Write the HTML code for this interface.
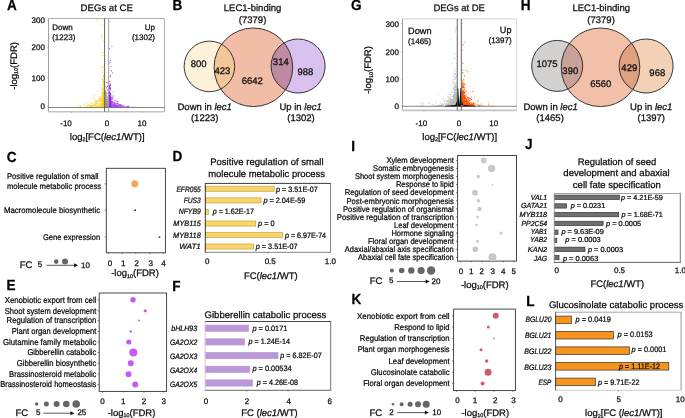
<!DOCTYPE html>
<html><head><meta charset="utf-8"><style>
html,body{margin:0;padding:0;background:#fff;width:685px;height:418px;overflow:hidden}
svg{display:block;will-change:transform}
text{font-family:"Liberation Sans",sans-serif;stroke:#000;stroke-width:0.25px;text-rendering:geometricPrecision}
.c{stroke-width:0.24px}
</style></head><body>
<svg width="685" height="418" viewBox="0 0 685 418" font-family="Liberation Sans">
<rect width="685" height="418" fill="#fff"/>
<text transform="translate(7.05,9.7) scale(0.93,1)" font-size="14.6" font-weight="bold" fill="#000">A</text><text transform="translate(172.6,9.7) scale(0.93,1)" font-size="14.6" font-weight="bold" fill="#000">B</text><text transform="translate(350.9,10.2) scale(0.93,1)" font-size="14.6" font-weight="bold" fill="#000">G</text><text transform="translate(520.7,10.1) scale(0.93,1)" font-size="14.6" font-weight="bold" fill="#000">H</text><text transform="translate(6.8,161.7) scale(0.93,1)" font-size="14.6" font-weight="bold" fill="#000">C</text><text transform="translate(172.6,161.39999999999998) scale(0.93,1)" font-size="14.6" font-weight="bold" fill="#000">D</text><text transform="translate(351.2,151.39999999999998) scale(0.93,1)" font-size="14.6" font-weight="bold" fill="#000">I</text><text transform="translate(525.1,148.79999999999998) scale(0.93,1)" font-size="14.6" font-weight="bold" fill="#000">J</text><text transform="translate(6.5,290.09999999999997) scale(0.93,1)" font-size="14.6" font-weight="bold" fill="#000">E</text><text transform="translate(172.2,290.5) scale(0.93,1)" font-size="14.6" font-weight="bold" fill="#000">F</text><text transform="translate(351.5,303.7) scale(0.93,1)" font-size="14.6" font-weight="bold" fill="#000">K</text><text transform="translate(526.2,305.5) scale(0.93,1)" font-size="14.6" font-weight="bold" fill="#000">L</text><path fill="#999" fill-opacity="1" d="M105.2 106.2h1v1h-1zM106.1 106.6h1v1h-1zM105.7 104.7h1v1h-1zM104.8 103.5h1v1h-1zM104.7 104.2h1v1h-1zM104.8 106.5h1v1h-1zM105.4 98.2h1v1h-1zM104.9 105.7h1v1h-1zM106.0 92.2h1v1h-1zM105.8 104.5h1v1h-1zM107.5 106.8h1v1h-1zM107.2 105.3h1v1h-1zM104.9 106.4h1v1h-1zM105.2 98.5h1v1h-1zM105.0 102.6h1v1h-1zM106.0 104.7h1v1h-1zM105.7 106.7h1v1h-1zM104.8 105.8h1v1h-1zM106.2 104.2h1v1h-1zM105.2 102.6h1v1h-1zM105.5 105.2h1v1h-1zM106.8 101.0h1v1h-1zM105.1 102.7h1v1h-1zM105.7 96.6h1v1h-1zM106.4 105.3h1v1h-1zM107.5 106.4h1v1h-1zM105.4 99.9h1v1h-1zM104.9 103.6h1v1h-1zM104.8 101.5h1v1h-1zM106.6 102.7h1v1h-1zM107.4 105.1h1v1h-1zM106.2 102.5h1v1h-1zM105.8 104.0h1v1h-1zM107.1 92.5h1v1h-1zM105.5 101.5h1v1h-1zM104.8 101.0h1v1h-1zM106.1 82.1h1v1h-1zM106.9 105.3h1v1h-1zM105.3 101.5h1v1h-1zM104.7 103.9h1v1h-1zM104.9 106.4h1v1h-1zM104.8 99.7h1v1h-1zM104.9 105.6h1v1h-1zM105.3 96.7h1v1h-1zM104.8 104.0h1v1h-1zM105.7 96.3h1v1h-1zM106.9 97.0h1v1h-1zM105.1 104.3h1v1h-1zM105.3 96.2h1v1h-1zM107.5 106.2h1v1h-1zM105.0 105.7h1v1h-1zM105.0 103.7h1v1h-1zM105.9 105.5h1v1h-1zM104.7 104.3h1v1h-1zM105.3 102.8h1v1h-1zM107.5 101.1h1v1h-1zM105.6 102.2h1v1h-1zM106.2 106.7h1v1h-1zM107.5 99.4h1v1h-1zM107.4 99.0h1v1h-1zM105.3 104.5h1v1h-1zM104.8 102.0h1v1h-1zM104.8 106.7h1v1h-1zM105.0 106.1h1v1h-1zM105.2 106.7h1v1h-1zM104.7 106.2h1v1h-1zM104.8 104.7h1v1h-1zM104.7 96.6h1v1h-1zM105.9 106.2h1v1h-1zM105.1 104.9h1v1h-1zM105.3 106.3h1v1h-1zM107.2 82.1h1v1h-1zM105.5 103.7h1v1h-1zM104.8 106.5h1v1h-1zM105.2 105.5h1v1h-1zM107.0 106.1h1v1h-1zM104.7 91.9h1v1h-1zM105.7 106.2h1v1h-1zM105.7 106.9h1v1h-1zM105.7 87.8h1v1h-1zM107.3 101.0h1v1h-1zM105.1 104.7h1v1h-1zM104.9 99.6h1v1h-1zM105.7 99.5h1v1h-1zM105.2 105.7h1v1h-1zM106.9 86.0h1v1h-1zM107.2 98.8h1v1h-1zM106.9 100.3h1v1h-1zM105.0 103.4h1v1h-1zM105.3 106.9h1v1h-1zM104.7 105.4h1v1h-1zM105.1 101.1h1v1h-1zM107.5 104.0h1v1h-1zM107.5 84.9h1v1h-1zM107.5 104.7h1v1h-1zM105.0 105.7h1v1h-1zM105.0 105.9h1v1h-1zM106.0 95.5h1v1h-1zM107.1 103.7h1v1h-1zM106.1 99.0h1v1h-1zM104.8 101.6h1v1h-1zM107.5 99.4h1v1h-1zM106.5 103.7h1v1h-1zM105.0 99.2h1v1h-1zM105.2 98.9h1v1h-1zM107.5 104.5h1v1h-1zM105.4 92.3h1v1h-1zM106.4 106.1h1v1h-1zM104.9 106.2h1v1h-1zM107.5 98.8h1v1h-1zM104.9 98.2h1v1h-1zM107.5 101.6h1v1h-1zM105.3 103.0h1v1h-1zM104.9 106.9h1v1h-1zM107.5 101.8h1v1h-1zM105.7 93.4h1v1h-1zM105.4 96.7h1v1h-1zM107.0 105.8h1v1h-1zM105.1 105.3h1v1h-1zM105.1 102.6h1v1h-1zM105.1 104.3h1v1h-1zM104.9 95.0h1v1h-1zM105.3 103.9h1v1h-1zM105.8 95.3h1v1h-1zM105.4 94.5h1v1h-1zM105.6 103.2h1v1h-1zM105.7 106.9h1v1h-1zM105.5 106.0h1v1h-1zM104.7 99.0h1v1h-1zM104.9 103.8h1v1h-1zM106.4 102.9h1v1h-1zM105.2 103.3h1v1h-1zM105.8 99.3h1v1h-1zM104.8 102.9h1v1h-1zM105.1 105.4h1v1h-1zM106.6 103.5h1v1h-1zM105.8 99.9h1v1h-1zM107.5 104.1h1v1h-1zM105.9 103.5h1v1h-1zM105.6 101.1h1v1h-1zM105.5 103.2h1v1h-1zM105.5 92.8h1v1h-1zM106.3 96.5h1v1h-1zM107.5 105.5h1v1h-1zM105.8 92.7h1v1h-1zM107.1 106.3h1v1h-1zM104.9 104.1h1v1h-1zM104.8 105.6h1v1h-1zM104.8 101.5h1v1h-1zM106.7 95.6h1v1h-1zM104.9 100.7h1v1h-1zM106.1 106.2h1v1h-1zM107.5 89.9h1v1h-1zM105.0 91.8h1v1h-1zM105.4 103.7h1v1h-1zM107.5 98.1h1v1h-1zM104.9 104.2h1v1h-1zM105.6 104.9h1v1h-1zM105.0 105.1h1v1h-1zM106.4 106.9h1v1h-1zM105.7 104.1h1v1h-1zM104.7 105.0h1v1h-1zM106.0 103.4h1v1h-1zM104.8 86.0h1v1h-1zM106.7 89.2h1v1h-1zM104.8 105.5h1v1h-1zM104.8 99.5h1v1h-1zM105.1 106.3h1v1h-1zM105.4 94.9h1v1h-1zM106.9 105.5h1v1h-1zM104.9 94.4h1v1h-1zM105.8 101.0h1v1h-1zM104.8 106.7h1v1h-1zM106.2 104.2h1v1h-1zM104.8 93.1h1v1h-1zM106.0 98.9h1v1h-1zM104.8 97.3h1v1h-1zM104.8 97.1h1v1h-1zM105.5 104.9h1v1h-1zM105.7 93.9h1v1h-1zM105.1 106.3h1v1h-1zM105.7 105.6h1v1h-1zM104.9 106.1h1v1h-1zM104.8 105.9h1v1h-1zM105.2 105.2h1v1h-1zM106.6 105.3h1v1h-1zM105.6 106.0h1v1h-1zM105.3 106.9h1v1h-1zM105.1 106.9h1v1h-1zM106.4 103.0h1v1h-1zM105.0 103.8h1v1h-1zM107.5 106.4h1v1h-1zM106.9 104.2h1v1h-1zM105.6 98.0h1v1h-1zM105.3 103.5h1v1h-1zM106.2 86.8h1v1h-1zM105.2 98.1h1v1h-1zM106.3 101.9h1v1h-1zM105.4 104.9h1v1h-1zM104.8 106.3h1v1h-1zM104.8 100.2h1v1h-1zM105.1 106.1h1v1h-1zM104.8 97.8h1v1h-1zM107.4 101.4h1v1h-1zM105.1 105.6h1v1h-1zM105.2 103.9h1v1h-1zM104.9 104.0h1v1h-1zM105.1 90.7h1v1h-1zM107.5 103.0h1v1h-1zM105.1 90.1h1v1h-1zM105.2 104.8h1v1h-1zM104.7 104.6h1v1h-1zM105.5 103.5h1v1h-1zM105.0 103.5h1v1h-1zM104.7 105.5h1v1h-1zM104.8 104.4h1v1h-1zM104.8 106.9h1v1h-1zM105.2 105.7h1v1h-1zM105.8 103.2h1v1h-1zM106.5 101.6h1v1h-1z"/><path fill="#FFCA00" fill-opacity="1" d="M102.5 85.5h1v1h-1zM103.0 102.7h1v1h-1zM102.1 105.0h1v1h-1zM102.5 96.3h1v1h-1zM103.4 88.6h1v1h-1zM102.3 96.7h1v1h-1zM102.5 89.9h1v1h-1zM103.3 99.2h1v1h-1zM102.8 88.6h1v1h-1zM102.4 89.1h1v1h-1zM102.7 84.3h1v1h-1zM102.5 94.8h1v1h-1zM103.2 106.3h1v1h-1zM103.3 102.1h1v1h-1zM103.4 88.5h1v1h-1zM102.7 96.7h1v1h-1zM102.6 95.2h1v1h-1zM102.8 106.6h1v1h-1zM102.4 92.8h1v1h-1zM102.8 98.9h1v1h-1zM102.6 105.9h1v1h-1zM102.5 103.7h1v1h-1zM103.4 103.5h1v1h-1zM102.5 104.3h1v1h-1zM102.5 69.4h1v1h-1zM102.8 101.8h1v1h-1zM102.8 95.1h1v1h-1zM102.4 97.0h1v1h-1zM102.6 105.8h1v1h-1zM103.3 103.7h1v1h-1zM102.5 103.0h1v1h-1zM102.7 106.5h1v1h-1zM103.4 103.5h1v1h-1zM102.6 94.8h1v1h-1zM102.6 103.2h1v1h-1zM102.8 100.4h1v1h-1zM102.8 105.3h1v1h-1zM102.2 104.4h1v1h-1zM102.1 79.1h1v1h-1zM103.5 100.5h1v1h-1zM102.4 72.1h1v1h-1zM102.9 103.5h1v1h-1zM103.2 77.5h1v1h-1zM103.2 97.9h1v1h-1zM103.3 99.2h1v1h-1zM102.2 105.2h1v1h-1zM102.4 99.5h1v1h-1zM102.3 94.4h1v1h-1zM103.2 83.8h1v1h-1zM102.8 106.3h1v1h-1zM103.5 99.8h1v1h-1zM102.9 103.0h1v1h-1zM103.3 102.4h1v1h-1zM103.1 88.3h1v1h-1zM103.5 92.7h1v1h-1zM102.3 105.3h1v1h-1zM102.2 94.1h1v1h-1zM102.2 103.2h1v1h-1zM103.0 101.6h1v1h-1zM102.1 97.7h1v1h-1zM103.0 101.0h1v1h-1zM103.1 106.1h1v1h-1zM103.4 88.6h1v1h-1zM103.1 79.2h1v1h-1zM103.2 103.5h1v1h-1zM102.8 104.5h1v1h-1zM103.0 75.3h1v1h-1zM102.3 89.9h1v1h-1zM102.6 82.1h1v1h-1zM102.2 98.6h1v1h-1zM102.5 106.1h1v1h-1zM102.5 100.6h1v1h-1zM102.4 96.3h1v1h-1zM103.1 106.1h1v1h-1zM102.2 105.2h1v1h-1zM102.8 102.4h1v1h-1zM103.1 93.2h1v1h-1zM102.1 103.6h1v1h-1zM102.6 103.0h1v1h-1zM102.7 101.6h1v1h-1zM103.3 104.8h1v1h-1zM103.2 83.0h1v1h-1zM102.8 104.1h1v1h-1zM102.2 66.6h1v1h-1zM102.9 105.1h1v1h-1zM103.2 105.6h1v1h-1zM103.0 105.6h1v1h-1zM103.2 103.6h1v1h-1zM102.7 84.8h1v1h-1zM102.5 101.3h1v1h-1zM102.9 99.2h1v1h-1zM103.0 102.5h1v1h-1zM103.4 103.3h1v1h-1zM102.1 105.3h1v1h-1zM102.8 96.7h1v1h-1zM102.3 104.2h1v1h-1zM103.1 103.7h1v1h-1zM102.9 100.7h1v1h-1zM102.2 87.7h1v1h-1zM102.3 106.4h1v1h-1zM103.5 94.2h1v1h-1zM102.2 100.2h1v1h-1zM102.7 106.6h1v1h-1zM103.0 80.5h1v1h-1zM102.3 87.3h1v1h-1zM102.1 103.7h1v1h-1zM103.3 104.9h1v1h-1zM102.8 95.1h1v1h-1zM102.2 93.8h1v1h-1zM102.6 92.1h1v1h-1zM102.9 98.6h1v1h-1zM103.4 91.4h1v1h-1zM103.2 81.4h1v1h-1zM102.6 103.0h1v1h-1zM103.3 103.7h1v1h-1zM102.6 94.6h1v1h-1zM103.3 105.9h1v1h-1zM102.8 97.9h1v1h-1zM103.0 104.1h1v1h-1zM102.7 106.5h1v1h-1zM103.1 100.4h1v1h-1zM102.2 96.3h1v1h-1zM102.3 100.2h1v1h-1zM103.2 103.8h1v1h-1zM102.2 94.4h1v1h-1zM103.1 106.4h1v1h-1zM102.8 95.4h1v1h-1zM102.9 103.6h1v1h-1zM102.6 80.7h1v1h-1zM103.2 106.3h1v1h-1zM103.0 101.1h1v1h-1zM102.5 104.4h1v1h-1zM102.4 93.2h1v1h-1zM102.8 104.3h1v1h-1zM102.1 102.9h1v1h-1zM102.4 104.0h1v1h-1zM103.2 92.3h1v1h-1zM103.1 76.2h1v1h-1zM102.8 104.5h1v1h-1zM103.2 101.2h1v1h-1z"/><path fill="#9B1FF2" fill-opacity="1" d="M109.3 106.5h1v1h-1zM109.3 102.2h1v1h-1zM109.7 103.1h1v1h-1zM109.1 104.6h1v1h-1zM109.7 84.1h1v1h-1zM109.4 104.6h1v1h-1zM109.8 102.6h1v1h-1zM109.0 105.5h1v1h-1zM109.8 93.3h1v1h-1zM109.6 101.5h1v1h-1zM109.5 104.6h1v1h-1zM110.0 103.1h1v1h-1zM109.6 92.9h1v1h-1zM109.8 101.5h1v1h-1zM109.1 100.2h1v1h-1zM108.9 92.2h1v1h-1zM109.2 91.4h1v1h-1zM109.1 102.8h1v1h-1zM109.1 102.2h1v1h-1zM109.0 106.6h1v1h-1zM109.7 104.0h1v1h-1zM109.0 103.7h1v1h-1zM109.4 102.1h1v1h-1zM109.6 98.0h1v1h-1zM109.2 85.5h1v1h-1zM109.9 106.1h1v1h-1zM109.9 87.7h1v1h-1zM109.8 105.4h1v1h-1zM109.9 98.6h1v1h-1zM108.7 106.5h1v1h-1zM110.0 98.1h1v1h-1zM109.1 105.7h1v1h-1zM108.9 104.5h1v1h-1zM109.8 103.2h1v1h-1zM108.9 87.8h1v1h-1zM109.8 105.1h1v1h-1zM109.9 99.1h1v1h-1zM109.8 97.8h1v1h-1zM110.0 94.2h1v1h-1zM109.9 104.8h1v1h-1zM109.7 100.5h1v1h-1zM109.7 102.0h1v1h-1zM109.9 100.1h1v1h-1zM109.1 104.5h1v1h-1zM108.9 101.2h1v1h-1zM108.8 101.6h1v1h-1zM108.9 101.2h1v1h-1zM109.4 100.4h1v1h-1zM109.9 106.5h1v1h-1zM109.9 101.6h1v1h-1zM109.5 97.8h1v1h-1zM109.9 102.8h1v1h-1zM109.3 80.7h1v1h-1zM108.8 98.5h1v1h-1zM109.6 106.4h1v1h-1zM109.6 97.4h1v1h-1zM110.0 103.4h1v1h-1zM110.1 100.9h1v1h-1zM109.4 88.4h1v1h-1zM108.7 96.5h1v1h-1zM109.6 103.3h1v1h-1zM109.9 103.0h1v1h-1zM109.4 100.6h1v1h-1zM109.8 104.7h1v1h-1zM109.3 102.2h1v1h-1zM109.5 92.6h1v1h-1zM109.1 92.5h1v1h-1zM109.3 101.0h1v1h-1zM109.1 101.0h1v1h-1zM110.1 98.1h1v1h-1zM109.8 103.4h1v1h-1zM109.1 103.8h1v1h-1zM109.5 98.5h1v1h-1zM109.8 106.3h1v1h-1zM109.7 89.3h1v1h-1zM109.5 106.2h1v1h-1zM109.1 106.6h1v1h-1zM109.0 86.2h1v1h-1zM109.6 98.0h1v1h-1zM109.8 87.4h1v1h-1zM109.6 98.9h1v1h-1zM109.6 97.1h1v1h-1zM109.5 97.5h1v1h-1zM109.0 97.8h1v1h-1zM109.3 95.1h1v1h-1zM108.8 105.0h1v1h-1zM108.8 94.7h1v1h-1zM110.0 98.1h1v1h-1zM109.2 92.8h1v1h-1zM109.8 100.0h1v1h-1zM109.1 103.7h1v1h-1zM109.3 103.5h1v1h-1zM109.3 98.4h1v1h-1zM110.0 106.2h1v1h-1zM109.5 106.3h1v1h-1zM108.9 93.3h1v1h-1zM109.5 86.5h1v1h-1zM109.3 106.5h1v1h-1zM109.2 99.4h1v1h-1zM110.0 75.0h1v1h-1zM109.4 102.3h1v1h-1zM108.8 98.3h1v1h-1zM109.0 105.3h1v1h-1zM108.7 106.6h1v1h-1zM109.7 105.6h1v1h-1zM110.1 105.9h1v1h-1zM109.9 105.5h1v1h-1zM108.7 96.4h1v1h-1zM109.0 96.0h1v1h-1zM109.0 106.2h1v1h-1zM109.8 96.6h1v1h-1zM109.9 96.1h1v1h-1zM108.8 98.7h1v1h-1zM109.7 101.7h1v1h-1zM110.0 104.3h1v1h-1zM110.1 96.5h1v1h-1zM108.7 106.5h1v1h-1zM109.6 93.0h1v1h-1zM108.8 103.6h1v1h-1zM109.7 105.1h1v1h-1zM109.9 101.3h1v1h-1zM108.8 102.9h1v1h-1zM109.5 102.0h1v1h-1zM109.6 105.3h1v1h-1zM109.8 103.0h1v1h-1zM109.6 98.7h1v1h-1zM109.3 102.7h1v1h-1zM109.8 83.4h1v1h-1zM109.8 99.9h1v1h-1zM109.1 106.1h1v1h-1zM110.1 96.9h1v1h-1zM109.9 103.4h1v1h-1zM109.5 76.3h1v1h-1zM109.9 99.2h1v1h-1zM109.1 102.1h1v1h-1zM109.9 102.8h1v1h-1zM109.7 99.2h1v1h-1zM110.0 93.4h1v1h-1zM109.1 106.6h1v1h-1zM109.1 102.2h1v1h-1zM109.5 93.1h1v1h-1zM109.9 106.3h1v1h-1zM109.9 93.2h1v1h-1zM109.9 99.8h1v1h-1zM109.1 91.4h1v1h-1zM109.8 97.4h1v1h-1zM110.0 103.2h1v1h-1zM108.8 100.1h1v1h-1zM109.8 104.8h1v1h-1zM109.8 85.1h1v1h-1z"/><path fill="#FFCA00" fill-opacity="0.8" d="M102.6 66.7h1v1h-1zM101.5 24.4h1v1h-1zM101.1 36.1h1v1h-1zM100.4 37.4h1v1h-1zM101.9 52.1h1v1h-1zM102.9 40.8h1v1h-1zM103.3 54.3h1v1h-1zM101.1 35.2h1v1h-1zM101.9 65.3h1v1h-1zM102.6 52.0h1v1h-1zM101.9 55.0h1v1h-1z"/><path fill="#9B1FF2" fill-opacity="0.8" d="M110.5 66.1h1v1h-1zM109.1 48.1h1v1h-1zM109.6 20.8h1v1h-1zM109.4 62.1h1v1h-1zM112.2 72.4h1v1h-1zM110.0 59.9h1v1h-1zM111.4 46.0h1v1h-1zM111.0 70.6h1v1h-1z"/><path fill="#9B1FF2" fill-opacity="0.7" d="M109.8 103.5h1v1h-1zM113.2 105.0h1v1h-1zM109.6 105.6h1v1h-1zM114.3 102.9h1v1h-1zM111.2 106.3h1v1h-1zM115.3 103.5h1v1h-1zM109.8 103.7h1v1h-1zM117.8 103.2h1v1h-1zM111.7 104.7h1v1h-1zM112.3 106.0h1v1h-1zM109.6 105.9h1v1h-1zM113.5 105.5h1v1h-1zM112.0 105.1h1v1h-1zM111.6 106.1h1v1h-1zM108.9 85.8h1v1h-1zM110.6 106.2h1v1h-1zM112.7 102.4h1v1h-1zM109.4 103.5h1v1h-1zM110.4 104.2h1v1h-1zM108.8 106.5h1v1h-1zM127.3 106.2h1v1h-1zM111.4 104.1h1v1h-1zM109.9 101.6h1v1h-1zM110.9 97.5h1v1h-1zM114.5 102.7h1v1h-1zM121.9 106.4h1v1h-1zM108.9 105.8h1v1h-1zM109.5 106.3h1v1h-1zM108.9 103.7h1v1h-1zM116.9 105.5h1v1h-1zM120.5 104.3h1v1h-1zM109.0 103.4h1v1h-1zM110.7 106.2h1v1h-1zM121.5 106.4h1v1h-1zM112.0 103.7h1v1h-1zM121.2 105.7h1v1h-1zM110.7 104.7h1v1h-1zM109.4 95.0h1v1h-1zM127.9 106.6h1v1h-1zM108.9 105.5h1v1h-1zM110.4 99.1h1v1h-1zM118.1 103.9h1v1h-1zM108.9 101.1h1v1h-1zM113.6 104.0h1v1h-1zM125.6 106.6h1v1h-1zM109.3 101.7h1v1h-1zM119.9 105.4h1v1h-1zM110.1 103.7h1v1h-1zM114.4 106.3h1v1h-1zM110.3 105.6h1v1h-1zM109.2 104.3h1v1h-1zM109.4 105.7h1v1h-1zM109.3 102.7h1v1h-1zM108.8 102.1h1v1h-1zM109.6 106.5h1v1h-1zM119.2 106.3h1v1h-1zM119.6 104.3h1v1h-1zM117.5 106.4h1v1h-1zM111.1 106.3h1v1h-1zM119.3 104.3h1v1h-1zM112.7 105.0h1v1h-1zM110.4 101.0h1v1h-1zM111.3 103.6h1v1h-1zM109.3 105.7h1v1h-1zM108.9 102.2h1v1h-1zM111.9 106.2h1v1h-1zM116.9 106.1h1v1h-1zM110.8 106.1h1v1h-1zM110.0 100.5h1v1h-1zM110.3 106.0h1v1h-1zM111.4 105.5h1v1h-1zM118.0 106.4h1v1h-1zM124.1 106.6h1v1h-1zM117.7 104.9h1v1h-1zM109.6 104.4h1v1h-1zM110.0 105.6h1v1h-1zM109.6 105.1h1v1h-1zM127.6 105.5h1v1h-1zM119.1 106.5h1v1h-1zM110.1 99.1h1v1h-1zM108.9 102.0h1v1h-1zM110.1 94.0h1v1h-1zM108.8 100.7h1v1h-1zM110.4 106.1h1v1h-1zM108.7 100.2h1v1h-1zM111.7 106.0h1v1h-1zM111.0 99.1h1v1h-1zM109.7 103.7h1v1h-1zM109.3 105.9h1v1h-1zM114.6 103.8h1v1h-1zM109.6 106.3h1v1h-1zM109.1 103.3h1v1h-1zM111.4 105.6h1v1h-1zM109.6 103.4h1v1h-1zM113.6 102.4h1v1h-1zM112.2 106.0h1v1h-1zM109.0 101.9h1v1h-1zM110.8 102.6h1v1h-1zM108.9 100.7h1v1h-1zM110.3 100.6h1v1h-1zM116.7 105.4h1v1h-1zM108.8 98.0h1v1h-1zM111.3 100.4h1v1h-1zM109.9 105.9h1v1h-1zM115.8 105.7h1v1h-1zM109.4 105.0h1v1h-1zM112.3 106.6h1v1h-1zM111.6 104.9h1v1h-1zM111.6 106.2h1v1h-1zM113.7 102.4h1v1h-1zM116.7 105.9h1v1h-1zM113.7 105.4h1v1h-1zM114.3 106.5h1v1h-1zM116.9 101.2h1v1h-1zM111.4 104.5h1v1h-1zM111.7 104.3h1v1h-1zM108.8 94.3h1v1h-1zM109.7 105.9h1v1h-1zM109.1 105.6h1v1h-1zM115.5 106.5h1v1h-1zM109.1 102.4h1v1h-1zM109.6 106.5h1v1h-1zM112.4 104.2h1v1h-1zM111.7 103.0h1v1h-1zM109.1 99.5h1v1h-1zM113.8 106.5h1v1h-1zM109.2 104.2h1v1h-1zM111.5 105.6h1v1h-1zM109.2 104.8h1v1h-1zM109.3 103.5h1v1h-1zM116.6 106.3h1v1h-1zM112.1 102.7h1v1h-1zM109.4 100.6h1v1h-1zM119.8 106.1h1v1h-1zM110.9 100.9h1v1h-1zM111.7 105.1h1v1h-1zM120.0 105.0h1v1h-1zM110.4 105.7h1v1h-1zM110.3 104.8h1v1h-1zM124.6 106.3h1v1h-1zM118.5 104.2h1v1h-1zM116.2 106.5h1v1h-1zM111.6 97.3h1v1h-1zM119.6 106.3h1v1h-1zM110.9 103.5h1v1h-1zM110.5 104.2h1v1h-1zM109.0 104.6h1v1h-1zM111.5 106.5h1v1h-1zM109.3 94.5h1v1h-1zM114.7 100.4h1v1h-1zM112.7 102.1h1v1h-1zM117.3 103.0h1v1h-1zM108.8 102.9h1v1h-1zM109.9 102.8h1v1h-1zM110.0 104.0h1v1h-1zM119.0 105.4h1v1h-1zM109.9 104.1h1v1h-1zM111.0 97.3h1v1h-1zM110.1 105.4h1v1h-1zM112.9 106.3h1v1h-1zM112.3 97.9h1v1h-1zM111.6 105.7h1v1h-1zM111.2 104.3h1v1h-1zM109.3 106.1h1v1h-1zM109.3 105.4h1v1h-1zM110.8 105.5h1v1h-1zM109.8 106.3h1v1h-1zM111.9 101.3h1v1h-1zM112.5 104.3h1v1h-1zM112.9 106.0h1v1h-1zM113.7 105.1h1v1h-1zM111.9 103.9h1v1h-1zM111.2 105.5h1v1h-1zM109.8 105.8h1v1h-1zM111.6 105.2h1v1h-1zM112.2 106.6h1v1h-1zM110.4 100.2h1v1h-1zM109.8 103.9h1v1h-1zM111.4 105.6h1v1h-1zM126.2 106.5h1v1h-1zM114.6 106.2h1v1h-1zM109.0 99.3h1v1h-1zM111.0 106.4h1v1h-1zM110.7 104.8h1v1h-1zM114.0 106.3h1v1h-1zM109.7 95.8h1v1h-1zM114.1 106.2h1v1h-1zM110.3 105.2h1v1h-1zM113.2 104.1h1v1h-1zM116.3 103.3h1v1h-1zM111.6 102.6h1v1h-1zM114.1 103.2h1v1h-1zM111.3 102.0h1v1h-1zM113.6 100.5h1v1h-1zM109.2 99.5h1v1h-1zM108.7 101.4h1v1h-1zM112.2 104.7h1v1h-1zM121.9 106.1h1v1h-1zM110.9 101.8h1v1h-1zM116.9 105.0h1v1h-1zM110.6 104.7h1v1h-1zM111.1 102.7h1v1h-1zM110.1 105.0h1v1h-1zM111.9 105.2h1v1h-1zM110.3 101.6h1v1h-1zM116.3 105.3h1v1h-1zM111.0 106.0h1v1h-1zM110.1 106.1h1v1h-1zM112.1 104.1h1v1h-1zM109.1 97.7h1v1h-1zM110.3 100.6h1v1h-1zM116.0 100.3h1v1h-1zM109.6 104.7h1v1h-1zM118.4 106.6h1v1h-1zM108.9 103.6h1v1h-1zM111.5 99.1h1v1h-1zM114.6 104.8h1v1h-1zM134.3 106.5h1v1h-1zM111.6 103.2h1v1h-1zM110.7 105.2h1v1h-1zM112.3 105.4h1v1h-1zM120.5 105.5h1v1h-1zM111.7 106.3h1v1h-1zM110.6 105.0h1v1h-1zM112.0 104.2h1v1h-1zM117.2 100.9h1v1h-1zM111.4 104.9h1v1h-1zM112.6 91.5h1v1h-1zM110.4 104.2h1v1h-1zM115.5 106.2h1v1h-1zM110.2 94.1h1v1h-1zM115.7 105.1h1v1h-1zM109.2 98.7h1v1h-1zM113.4 102.2h1v1h-1zM127.2 106.2h1v1h-1zM110.9 106.1h1v1h-1zM110.1 104.2h1v1h-1zM111.5 106.0h1v1h-1zM109.5 103.2h1v1h-1zM112.4 105.4h1v1h-1zM129.0 106.4h1v1h-1zM108.9 104.7h1v1h-1zM114.9 105.8h1v1h-1zM113.4 106.6h1v1h-1zM110.2 100.6h1v1h-1zM112.2 103.5h1v1h-1zM109.6 104.3h1v1h-1zM111.9 105.7h1v1h-1zM112.9 104.6h1v1h-1zM132.1 106.4h1v1h-1zM110.8 106.2h1v1h-1zM109.4 101.7h1v1h-1zM109.2 106.2h1v1h-1zM109.4 104.1h1v1h-1zM115.6 104.7h1v1h-1zM115.3 106.5h1v1h-1zM108.8 101.3h1v1h-1zM110.3 102.5h1v1h-1zM110.4 106.0h1v1h-1zM109.9 106.3h1v1h-1z"/><path fill="#FFCA00" fill-opacity="0.6" d="M98.0 98.0h1v1h-1zM102.7 104.7h1v1h-1zM102.3 92.9h1v1h-1zM102.7 106.4h1v1h-1zM103.2 104.6h1v1h-1zM92.1 102.9h1v1h-1zM96.9 90.5h1v1h-1zM90.1 106.1h1v1h-1zM102.5 96.2h1v1h-1zM96.6 106.5h1v1h-1zM98.0 105.2h1v1h-1zM101.2 105.2h1v1h-1zM102.6 106.6h1v1h-1zM101.9 105.0h1v1h-1zM87.9 106.5h1v1h-1zM86.8 106.4h1v1h-1zM101.3 100.5h1v1h-1zM94.9 105.3h1v1h-1zM103.2 104.1h1v1h-1zM101.2 97.7h1v1h-1zM102.4 104.9h1v1h-1zM92.1 106.5h1v1h-1zM100.9 100.8h1v1h-1zM96.2 106.5h1v1h-1zM103.3 106.3h1v1h-1zM90.9 106.2h1v1h-1zM96.6 100.6h1v1h-1zM101.4 105.5h1v1h-1zM87.7 105.8h1v1h-1zM102.0 101.9h1v1h-1zM101.6 105.4h1v1h-1zM103.5 101.0h1v1h-1zM91.1 105.1h1v1h-1zM89.2 106.6h1v1h-1zM102.2 104.2h1v1h-1zM87.8 104.0h1v1h-1zM101.1 105.6h1v1h-1zM100.7 104.3h1v1h-1zM90.3 106.3h1v1h-1zM95.4 103.4h1v1h-1zM94.8 103.2h1v1h-1zM98.8 105.4h1v1h-1zM101.6 105.0h1v1h-1zM95.9 106.4h1v1h-1zM102.4 101.3h1v1h-1zM102.1 106.4h1v1h-1zM103.3 103.4h1v1h-1zM101.5 92.4h1v1h-1zM92.8 98.4h1v1h-1zM102.0 106.3h1v1h-1zM103.0 103.9h1v1h-1zM97.3 105.0h1v1h-1zM102.2 104.6h1v1h-1zM98.7 103.2h1v1h-1zM96.6 101.7h1v1h-1zM98.0 106.2h1v1h-1zM94.3 105.8h1v1h-1zM99.3 105.1h1v1h-1zM96.8 106.0h1v1h-1zM102.1 105.6h1v1h-1zM102.7 98.3h1v1h-1zM99.2 105.4h1v1h-1zM101.0 89.5h1v1h-1zM100.0 105.7h1v1h-1zM95.2 104.1h1v1h-1zM80.0 106.6h1v1h-1zM100.3 100.9h1v1h-1zM94.3 101.3h1v1h-1zM103.3 105.2h1v1h-1zM102.9 105.8h1v1h-1zM85.4 106.3h1v1h-1zM90.2 106.0h1v1h-1zM93.4 105.4h1v1h-1zM102.0 101.0h1v1h-1zM88.9 106.5h1v1h-1zM99.0 103.6h1v1h-1zM102.3 104.9h1v1h-1zM102.7 105.7h1v1h-1zM102.0 103.2h1v1h-1zM98.2 105.9h1v1h-1zM103.4 105.0h1v1h-1zM97.8 106.0h1v1h-1zM101.6 105.8h1v1h-1zM95.6 104.7h1v1h-1zM103.2 106.2h1v1h-1zM101.0 103.8h1v1h-1zM98.4 106.3h1v1h-1zM102.6 102.1h1v1h-1zM100.9 105.4h1v1h-1zM101.7 95.5h1v1h-1zM101.6 103.6h1v1h-1zM101.3 104.7h1v1h-1zM93.5 95.2h1v1h-1zM101.2 105.8h1v1h-1zM97.0 106.0h1v1h-1zM103.5 97.3h1v1h-1zM100.7 100.7h1v1h-1zM100.9 99.1h1v1h-1zM100.4 106.0h1v1h-1zM103.4 103.4h1v1h-1zM98.4 99.4h1v1h-1zM103.0 102.8h1v1h-1zM101.2 104.1h1v1h-1zM102.7 105.3h1v1h-1zM99.8 98.1h1v1h-1zM102.9 104.0h1v1h-1zM95.3 98.5h1v1h-1zM102.4 106.1h1v1h-1zM89.2 102.4h1v1h-1zM100.2 106.4h1v1h-1zM90.5 105.9h1v1h-1zM91.8 105.0h1v1h-1zM94.8 106.2h1v1h-1zM95.8 106.0h1v1h-1zM100.9 100.1h1v1h-1zM94.7 106.1h1v1h-1zM102.3 104.7h1v1h-1zM99.9 105.0h1v1h-1zM102.8 105.5h1v1h-1zM97.0 100.4h1v1h-1zM103.3 103.3h1v1h-1zM96.4 106.5h1v1h-1zM94.4 106.3h1v1h-1zM98.9 104.1h1v1h-1zM98.6 105.5h1v1h-1zM100.8 103.6h1v1h-1zM100.7 102.9h1v1h-1zM100.5 104.6h1v1h-1zM103.4 102.8h1v1h-1zM100.1 105.7h1v1h-1zM96.3 102.7h1v1h-1zM100.4 105.9h1v1h-1zM100.3 106.2h1v1h-1zM102.8 104.4h1v1h-1zM103.0 104.3h1v1h-1zM99.9 106.5h1v1h-1zM98.4 106.3h1v1h-1zM96.9 102.6h1v1h-1zM99.9 106.4h1v1h-1zM100.0 105.0h1v1h-1zM88.4 106.5h1v1h-1zM93.8 95.2h1v1h-1zM96.9 102.1h1v1h-1zM102.4 91.5h1v1h-1zM100.1 96.2h1v1h-1zM91.1 106.3h1v1h-1zM95.7 100.1h1v1h-1zM103.2 104.9h1v1h-1zM96.4 106.2h1v1h-1zM92.2 106.0h1v1h-1zM95.0 106.2h1v1h-1zM100.0 98.3h1v1h-1zM102.3 105.5h1v1h-1zM100.0 105.3h1v1h-1zM103.3 105.8h1v1h-1zM102.6 96.1h1v1h-1zM97.8 100.1h1v1h-1zM102.6 100.7h1v1h-1zM102.9 103.7h1v1h-1zM98.4 105.3h1v1h-1zM93.2 105.0h1v1h-1zM99.2 99.9h1v1h-1zM102.9 87.3h1v1h-1zM98.5 105.1h1v1h-1zM95.5 105.9h1v1h-1zM80.2 106.4h1v1h-1zM101.3 101.5h1v1h-1zM100.6 105.9h1v1h-1zM96.7 106.5h1v1h-1zM94.9 105.9h1v1h-1zM98.4 94.3h1v1h-1zM99.1 103.2h1v1h-1zM101.6 106.6h1v1h-1zM103.3 106.0h1v1h-1zM98.7 104.9h1v1h-1zM99.9 99.2h1v1h-1zM102.8 105.6h1v1h-1zM98.2 106.5h1v1h-1zM103.5 104.8h1v1h-1zM102.9 104.9h1v1h-1zM102.2 103.3h1v1h-1zM99.1 105.9h1v1h-1zM98.6 104.7h1v1h-1zM102.8 96.0h1v1h-1zM102.1 106.0h1v1h-1zM103.0 102.6h1v1h-1zM93.2 103.6h1v1h-1zM100.9 105.5h1v1h-1zM103.4 102.5h1v1h-1zM99.4 105.2h1v1h-1zM98.3 104.9h1v1h-1zM89.7 105.0h1v1h-1zM102.1 97.9h1v1h-1zM103.3 103.6h1v1h-1zM100.9 105.7h1v1h-1zM103.2 100.7h1v1h-1zM103.4 103.4h1v1h-1zM89.4 106.4h1v1h-1zM102.4 103.1h1v1h-1zM100.0 103.2h1v1h-1zM97.9 20.2h1v1h-1zM90.2 20.2h1v1h-1zM102.5 20.2h1v1h-1zM98.2 20.2h1v1h-1zM96.0 20.2h1v1h-1z"/><path fill="#FFCA00" fill-opacity="0.5" d="M91.7 106.2h1v1h-1zM100.9 104.7h1v1h-1zM103.2 91.7h1v1h-1zM92.8 103.6h1v1h-1zM103.5 93.6h1v1h-1zM93.9 104.9h1v1h-1zM94.0 105.0h1v1h-1zM101.7 105.9h1v1h-1zM101.6 106.4h1v1h-1zM100.6 99.3h1v1h-1zM95.2 100.9h1v1h-1zM94.8 105.7h1v1h-1zM97.9 104.3h1v1h-1zM92.6 104.9h1v1h-1zM101.3 100.8h1v1h-1zM80.0 106.4h1v1h-1zM88.7 106.6h1v1h-1zM101.4 105.1h1v1h-1zM94.0 98.8h1v1h-1zM93.9 105.5h1v1h-1zM88.6 106.0h1v1h-1zM101.6 92.8h1v1h-1zM96.5 102.5h1v1h-1zM95.8 94.0h1v1h-1zM99.1 98.4h1v1h-1zM95.1 100.7h1v1h-1zM99.5 100.6h1v1h-1zM97.6 105.2h1v1h-1zM101.8 100.8h1v1h-1zM102.9 90.6h1v1h-1zM102.4 106.4h1v1h-1zM102.7 89.5h1v1h-1zM100.5 105.8h1v1h-1zM103.3 106.3h1v1h-1zM95.2 103.5h1v1h-1zM95.1 102.5h1v1h-1zM103.0 100.6h1v1h-1zM100.3 97.9h1v1h-1zM91.5 101.9h1v1h-1zM103.0 93.1h1v1h-1zM86.3 103.0h1v1h-1zM102.7 105.1h1v1h-1zM102.7 106.4h1v1h-1zM90.3 103.5h1v1h-1zM96.5 100.6h1v1h-1zM96.5 105.4h1v1h-1zM102.8 105.9h1v1h-1zM93.6 106.0h1v1h-1zM100.8 103.7h1v1h-1zM103.4 104.6h1v1h-1zM101.2 99.6h1v1h-1zM100.3 104.6h1v1h-1zM80.2 106.1h1v1h-1zM90.2 104.8h1v1h-1zM103.3 103.0h1v1h-1zM99.5 99.7h1v1h-1zM100.5 100.3h1v1h-1zM98.1 105.6h1v1h-1zM89.6 106.4h1v1h-1zM91.5 106.2h1v1h-1zM103.5 105.0h1v1h-1zM93.4 96.8h1v1h-1zM103.5 101.9h1v1h-1zM98.8 99.7h1v1h-1zM102.1 102.5h1v1h-1zM100.5 97.3h1v1h-1zM101.4 90.3h1v1h-1zM101.2 105.3h1v1h-1zM95.1 104.5h1v1h-1zM102.7 100.1h1v1h-1zM102.9 96.4h1v1h-1zM95.1 101.9h1v1h-1zM96.6 105.1h1v1h-1zM99.9 104.1h1v1h-1zM88.0 106.5h1v1h-1zM88.1 106.6h1v1h-1zM101.9 104.8h1v1h-1zM87.3 105.6h1v1h-1zM100.2 95.8h1v1h-1zM101.6 103.0h1v1h-1zM98.2 100.8h1v1h-1zM93.7 103.9h1v1h-1zM100.5 104.5h1v1h-1zM102.3 95.1h1v1h-1zM95.9 102.2h1v1h-1zM102.2 103.0h1v1h-1zM93.1 104.5h1v1h-1zM102.6 102.7h1v1h-1zM88.4 106.2h1v1h-1zM102.0 104.4h1v1h-1zM95.0 101.0h1v1h-1zM102.3 105.5h1v1h-1zM101.5 104.3h1v1h-1zM98.3 105.9h1v1h-1zM100.7 105.5h1v1h-1zM77.6 105.9h1v1h-1zM102.7 85.3h1v1h-1zM102.7 103.5h1v1h-1zM74.6 106.0h1v1h-1zM94.2 105.0h1v1h-1zM102.0 100.5h1v1h-1zM102.7 105.1h1v1h-1zM100.1 106.4h1v1h-1zM99.9 98.9h1v1h-1zM95.2 104.5h1v1h-1zM96.5 104.4h1v1h-1zM102.4 100.8h1v1h-1zM99.9 100.0h1v1h-1zM86.8 105.9h1v1h-1zM97.5 101.3h1v1h-1zM93.8 105.1h1v1h-1zM79.1 106.5h1v1h-1zM89.9 106.1h1v1h-1zM84.0 103.8h1v1h-1zM90.5 106.3h1v1h-1zM89.1 105.0h1v1h-1zM85.6 105.1h1v1h-1zM87.5 104.1h1v1h-1zM90.5 105.4h1v1h-1zM79.8 106.0h1v1h-1zM86.4 105.4h1v1h-1zM84.4 106.2h1v1h-1zM78.9 105.5h1v1h-1zM102.1 105.8h1v1h-1z"/><path fill="#9B1FF2" fill-opacity="0.5" d="M122.8 105.5h1v1h-1zM111.3 103.9h1v1h-1zM111.6 106.4h1v1h-1zM122.0 105.4h1v1h-1zM128.0 106.2h1v1h-1zM114.5 105.7h1v1h-1zM109.0 91.0h1v1h-1zM120.3 106.0h1v1h-1zM122.4 104.4h1v1h-1zM110.9 102.3h1v1h-1zM128.0 106.1h1v1h-1zM126.6 106.4h1v1h-1zM111.7 101.1h1v1h-1zM110.2 104.7h1v1h-1zM121.2 105.6h1v1h-1zM118.1 106.0h1v1h-1zM109.8 104.3h1v1h-1zM109.9 88.0h1v1h-1zM110.8 102.7h1v1h-1zM109.4 102.4h1v1h-1zM111.6 104.4h1v1h-1zM109.1 105.8h1v1h-1zM119.2 105.8h1v1h-1zM110.4 105.5h1v1h-1zM110.7 105.3h1v1h-1zM108.9 100.2h1v1h-1zM111.2 105.8h1v1h-1zM116.0 106.3h1v1h-1zM110.6 97.8h1v1h-1zM109.5 103.4h1v1h-1zM119.6 103.7h1v1h-1zM109.7 104.3h1v1h-1zM116.4 105.4h1v1h-1zM127.8 106.4h1v1h-1zM126.8 106.0h1v1h-1zM110.2 103.6h1v1h-1zM109.5 99.9h1v1h-1zM110.5 95.3h1v1h-1zM114.0 105.1h1v1h-1zM110.4 101.9h1v1h-1zM110.1 96.1h1v1h-1zM109.5 102.6h1v1h-1zM113.4 105.5h1v1h-1zM117.6 105.5h1v1h-1zM115.1 104.1h1v1h-1zM110.9 104.3h1v1h-1zM109.2 105.5h1v1h-1zM120.1 105.9h1v1h-1zM115.2 106.3h1v1h-1zM113.7 105.0h1v1h-1zM112.9 105.3h1v1h-1zM109.1 104.5h1v1h-1zM110.2 105.9h1v1h-1zM116.3 105.7h1v1h-1zM111.8 96.4h1v1h-1zM117.6 101.8h1v1h-1zM120.6 106.4h1v1h-1zM110.6 106.5h1v1h-1zM115.5 103.5h1v1h-1zM111.3 104.2h1v1h-1zM115.2 103.1h1v1h-1zM110.4 97.3h1v1h-1zM111.3 102.1h1v1h-1zM109.9 106.0h1v1h-1zM123.3 105.0h1v1h-1zM116.2 106.5h1v1h-1zM108.9 105.6h1v1h-1zM110.0 104.7h1v1h-1zM111.6 106.4h1v1h-1zM110.9 101.8h1v1h-1zM109.9 97.0h1v1h-1zM113.8 102.3h1v1h-1zM110.5 103.8h1v1h-1zM115.6 105.4h1v1h-1zM108.7 95.8h1v1h-1zM117.7 105.9h1v1h-1zM109.0 95.4h1v1h-1zM114.3 106.4h1v1h-1zM110.4 106.0h1v1h-1zM118.1 106.1h1v1h-1zM123.5 105.0h1v1h-1zM109.2 99.9h1v1h-1zM111.7 100.7h1v1h-1zM119.3 106.0h1v1h-1zM109.3 90.1h1v1h-1zM112.0 95.5h1v1h-1zM115.8 102.9h1v1h-1zM119.3 104.8h1v1h-1zM112.3 106.4h1v1h-1zM115.9 105.1h1v1h-1zM113.0 96.8h1v1h-1zM109.5 98.7h1v1h-1zM109.0 99.5h1v1h-1zM118.5 106.0h1v1h-1zM113.4 94.2h1v1h-1zM114.8 104.2h1v1h-1zM110.4 106.3h1v1h-1zM111.4 104.2h1v1h-1zM110.0 104.7h1v1h-1zM109.6 99.9h1v1h-1zM120.7 104.8h1v1h-1zM117.0 104.3h1v1h-1zM123.7 106.3h1v1h-1zM113.9 105.5h1v1h-1zM112.4 106.4h1v1h-1zM113.8 106.0h1v1h-1zM121.3 105.3h1v1h-1zM110.7 105.6h1v1h-1zM117.1 105.5h1v1h-1zM111.7 106.4h1v1h-1zM108.9 103.6h1v1h-1zM122.2 106.3h1v1h-1z"/><line x1="48.5" y1="18.5" x2="164.5" y2="18.5" stroke="#999" stroke-width="0.8"/><line x1="164.5" y1="18.5" x2="164.5" y2="111.8" stroke="#999" stroke-width="0.8"/><line x1="48.5" y1="18.5" x2="48.5" y2="111.8" stroke="#888" stroke-width="0.8"/><line x1="48.5" y1="111.8" x2="164.5" y2="111.8" stroke="#c4c4c4" stroke-width="1.6"/><line x1="48.5" y1="107.5" x2="164.5" y2="107.5" stroke="#666" stroke-width="0.8"/><line x1="104.6" y1="18.5" x2="104.6" y2="111.8" stroke="#555" stroke-width="0.9"/><line x1="108.6" y1="18.5" x2="108.6" y2="111.8" stroke="#999" stroke-width="0.9"/><text x="44.9" y="22.900000000000002" font-size="8" text-anchor="end" fill="#111" >300</text><line x1="47.3" y1="20.05" x2="48.5" y2="20.05" stroke="#777" stroke-width="0.6"/><text x="44.9" y="50.25" font-size="8" text-anchor="end" fill="#111" >200</text><line x1="47.3" y1="47.4" x2="48.5" y2="47.4" stroke="#777" stroke-width="0.6"/><text x="44.9" y="80.75" font-size="8" text-anchor="end" fill="#111" >100</text><line x1="47.3" y1="77.9" x2="48.5" y2="77.9" stroke="#777" stroke-width="0.6"/><text x="44.9" y="108.94999999999999" font-size="8" text-anchor="end" fill="#111" >0</text><line x1="47.3" y1="106.1" x2="48.5" y2="106.1" stroke="#777" stroke-width="0.6"/><text x="66" y="126.3" font-size="8" text-anchor="middle" fill="#111" >-10</text><line x1="71.5" y1="111.8" x2="71.5" y2="112.7" stroke="#777" stroke-width="0.6"/><text x="107" y="126.3" font-size="8" text-anchor="middle" fill="#111" >0</text><line x1="107" y1="111.8" x2="107" y2="112.7" stroke="#777" stroke-width="0.6"/><text x="142" y="126.3" font-size="8" text-anchor="middle" fill="#111" >10</text><line x1="142.6" y1="111.8" x2="142.6" y2="112.7" stroke="#777" stroke-width="0.6"/><text transform="translate(16.5,65.9) rotate(-90)" font-size="9.5" text-anchor="middle" fill="#111">-log<tspan font-size="5.4" dy="1.7">10</tspan><tspan dy="-1.7">(FDR)</tspan></text><text x="107.2" y="139.5" font-size="9.5" text-anchor="middle" fill="#111">log<tspan font-size="5.4" dy="1.7">2</tspan><tspan dy="-1.7">[FC(</tspan><tspan font-style="italic">lec1</tspan>/WT)]</text><text x="80.6" y="10.9" font-size="9.5" text-anchor="start" textLength="52.30000000000001" lengthAdjust="spacingAndGlyphs" fill="#111" >DEGs at CE</text><text x="52.2" y="29.9" font-size="8" text-anchor="start" fill="#111" >Down</text><text x="52.2" y="39.8" font-size="8" text-anchor="start" fill="#111" >(1223)</text><text x="155" y="29.6" font-size="8" text-anchor="end" fill="#111" >Up</text><text x="155" y="39.6" font-size="8" text-anchor="end" fill="#111" >(1302)</text><path fill="#BBBBBB" fill-opacity="1" d="M454.0 70.1h1v1h-1zM454.5 104.4h1v1h-1zM454.7 100.3h1v1h-1zM455.6 98.4h1v1h-1zM456.2 82.7h1v1h-1zM454.3 96.5h1v1h-1zM453.4 95.9h1v1h-1zM455.4 102.9h1v1h-1zM455.8 105.1h1v1h-1zM453.9 88.9h1v1h-1zM455.3 103.6h1v1h-1zM454.3 88.6h1v1h-1zM453.4 103.7h1v1h-1zM453.8 89.4h1v1h-1zM454.0 101.8h1v1h-1zM455.6 89.7h1v1h-1zM455.2 101.3h1v1h-1zM454.5 101.3h1v1h-1zM453.7 102.9h1v1h-1zM456.1 97.9h1v1h-1zM454.3 90.0h1v1h-1zM454.1 84.2h1v1h-1zM453.4 99.3h1v1h-1zM454.7 103.9h1v1h-1zM455.3 97.6h1v1h-1zM456.0 94.9h1v1h-1zM455.7 100.1h1v1h-1zM453.3 104.6h1v1h-1zM456.1 100.2h1v1h-1zM455.6 93.8h1v1h-1zM456.2 88.9h1v1h-1zM453.6 91.5h1v1h-1zM454.9 102.4h1v1h-1zM454.2 98.9h1v1h-1zM454.9 101.7h1v1h-1zM454.9 95.5h1v1h-1zM453.7 84.3h1v1h-1zM455.7 102.2h1v1h-1zM454.9 97.9h1v1h-1zM455.2 103.4h1v1h-1zM455.9 101.9h1v1h-1zM454.8 73.4h1v1h-1zM453.5 87.3h1v1h-1zM453.3 76.0h1v1h-1zM454.3 90.4h1v1h-1zM456.0 95.2h1v1h-1zM454.4 102.2h1v1h-1zM454.5 77.9h1v1h-1zM454.8 96.0h1v1h-1zM455.3 101.6h1v1h-1zM453.5 105.1h1v1h-1zM455.6 95.2h1v1h-1zM454.9 104.6h1v1h-1zM454.2 101.2h1v1h-1zM454.5 100.6h1v1h-1zM454.6 97.9h1v1h-1zM455.0 104.3h1v1h-1zM455.7 85.5h1v1h-1zM454.6 104.3h1v1h-1zM453.6 102.8h1v1h-1zM455.9 98.6h1v1h-1zM455.4 99.4h1v1h-1zM454.5 103.1h1v1h-1zM454.5 104.3h1v1h-1zM454.7 97.4h1v1h-1zM456.0 100.7h1v1h-1zM456.0 100.2h1v1h-1zM453.6 98.2h1v1h-1zM454.1 92.7h1v1h-1zM455.9 63.3h1v1h-1zM454.0 104.4h1v1h-1zM453.7 100.9h1v1h-1zM455.7 76.4h1v1h-1zM454.5 92.0h1v1h-1zM455.8 91.9h1v1h-1zM456.0 103.0h1v1h-1zM455.1 105.3h1v1h-1zM454.4 103.2h1v1h-1zM455.3 94.3h1v1h-1zM454.9 85.6h1v1h-1zM454.3 86.9h1v1h-1zM454.5 82.9h1v1h-1zM453.6 103.7h1v1h-1zM454.0 101.6h1v1h-1zM453.9 95.1h1v1h-1zM453.7 104.2h1v1h-1zM455.1 93.4h1v1h-1zM453.4 93.9h1v1h-1zM456.1 97.1h1v1h-1zM455.9 98.2h1v1h-1zM453.8 104.3h1v1h-1zM453.4 95.3h1v1h-1zM455.4 103.5h1v1h-1zM454.9 89.0h1v1h-1zM454.5 104.3h1v1h-1zM456.1 104.3h1v1h-1zM453.8 103.6h1v1h-1zM454.5 102.3h1v1h-1zM454.1 101.1h1v1h-1zM455.8 86.7h1v1h-1zM454.6 94.9h1v1h-1zM453.8 78.7h1v1h-1zM456.2 101.6h1v1h-1zM455.7 99.1h1v1h-1zM453.6 90.9h1v1h-1zM456.1 103.6h1v1h-1zM453.7 95.2h1v1h-1zM455.0 99.6h1v1h-1zM455.7 88.6h1v1h-1zM455.0 86.8h1v1h-1zM454.4 104.7h1v1h-1zM455.2 103.2h1v1h-1zM453.5 97.4h1v1h-1zM456.1 103.7h1v1h-1zM455.1 99.7h1v1h-1zM454.5 101.0h1v1h-1zM455.1 105.3h1v1h-1zM454.5 101.7h1v1h-1zM456.1 99.9h1v1h-1zM453.2 105.0h1v1h-1zM455.6 100.1h1v1h-1zM454.9 103.9h1v1h-1zM453.4 104.1h1v1h-1zM452.8 102.4h1v1h-1zM443.6 100.2h1v1h-1zM456.1 101.3h1v1h-1zM450.3 98.9h1v1h-1zM450.2 102.3h1v1h-1zM452.2 103.7h1v1h-1zM454.9 98.1h1v1h-1zM448.0 98.6h1v1h-1zM451.6 104.1h1v1h-1zM450.4 101.1h1v1h-1zM453.4 101.3h1v1h-1zM454.5 101.8h1v1h-1zM454.1 105.1h1v1h-1zM454.6 103.6h1v1h-1zM438.4 105.2h1v1h-1zM454.4 104.2h1v1h-1zM455.1 103.4h1v1h-1zM455.6 105.4h1v1h-1zM448.0 103.9h1v1h-1zM453.8 101.8h1v1h-1zM454.8 104.6h1v1h-1zM455.9 103.6h1v1h-1zM454.7 99.5h1v1h-1zM453.0 94.3h1v1h-1zM454.5 94.0h1v1h-1zM452.7 105.1h1v1h-1zM455.4 101.3h1v1h-1zM438.7 105.3h1v1h-1zM450.2 103.6h1v1h-1zM448.1 105.2h1v1h-1zM453.5 95.8h1v1h-1zM454.9 104.0h1v1h-1zM456.1 104.5h1v1h-1zM455.0 99.8h1v1h-1zM455.2 103.0h1v1h-1zM455.3 101.0h1v1h-1zM448.2 102.8h1v1h-1zM455.3 99.1h1v1h-1zM443.0 104.6h1v1h-1zM455.9 97.3h1v1h-1zM447.9 104.4h1v1h-1zM455.6 104.4h1v1h-1zM453.1 97.0h1v1h-1zM452.1 95.9h1v1h-1zM455.2 103.5h1v1h-1zM450.7 102.0h1v1h-1zM454.1 100.5h1v1h-1zM454.6 105.1h1v1h-1zM454.1 105.2h1v1h-1zM452.3 103.9h1v1h-1zM453.5 101.6h1v1h-1zM455.0 102.5h1v1h-1zM456.1 92.5h1v1h-1zM452.9 88.0h1v1h-1zM456.0 100.7h1v1h-1zM451.0 104.0h1v1h-1zM455.8 104.6h1v1h-1zM455.6 98.4h1v1h-1zM455.8 97.2h1v1h-1zM454.0 102.1h1v1h-1zM452.6 102.3h1v1h-1zM451.9 102.0h1v1h-1zM454.6 99.3h1v1h-1zM455.0 99.6h1v1h-1zM450.4 100.6h1v1h-1zM454.7 98.7h1v1h-1zM441.0 105.2h1v1h-1zM454.9 102.0h1v1h-1zM444.9 105.2h1v1h-1zM456.2 102.2h1v1h-1zM451.9 99.9h1v1h-1zM454.4 85.2h1v1h-1zM455.2 98.8h1v1h-1zM455.8 105.3h1v1h-1zM455.6 105.1h1v1h-1zM453.4 102.1h1v1h-1zM455.4 92.1h1v1h-1zM454.4 104.7h1v1h-1zM455.4 99.0h1v1h-1zM446.0 105.1h1v1h-1zM456.1 97.9h1v1h-1zM455.1 86.6h1v1h-1zM453.4 101.2h1v1h-1zM454.5 98.2h1v1h-1zM453.7 103.7h1v1h-1zM446.8 105.2h1v1h-1zM450.9 105.2h1v1h-1zM452.1 103.5h1v1h-1zM448.2 105.2h1v1h-1zM452.9 103.3h1v1h-1zM446.1 100.0h1v1h-1zM452.3 104.4h1v1h-1zM455.0 104.0h1v1h-1zM453.9 104.3h1v1h-1zM455.3 98.7h1v1h-1zM452.1 104.1h1v1h-1zM435.5 105.3h1v1h-1zM452.8 104.7h1v1h-1zM448.2 100.3h1v1h-1zM455.0 99.0h1v1h-1zM449.3 104.5h1v1h-1zM454.6 102.4h1v1h-1zM447.3 105.0h1v1h-1zM451.6 102.2h1v1h-1zM453.8 101.7h1v1h-1zM447.6 104.9h1v1h-1zM447.6 104.4h1v1h-1zM450.1 99.2h1v1h-1zM455.4 95.9h1v1h-1zM435.1 105.3h1v1h-1zM456.1 104.8h1v1h-1zM441.5 105.4h1v1h-1zM446.5 105.1h1v1h-1zM450.9 105.1h1v1h-1zM455.5 99.9h1v1h-1zM455.8 103.4h1v1h-1zM446.2 103.0h1v1h-1zM447.7 96.3h1v1h-1zM456.1 104.1h1v1h-1zM449.9 101.8h1v1h-1zM456.0 101.9h1v1h-1zM455.1 102.8h1v1h-1zM455.8 105.3h1v1h-1zM437.5 105.3h1v1h-1zM447.8 105.1h1v1h-1zM453.5 104.8h1v1h-1zM454.0 104.6h1v1h-1zM451.6 104.8h1v1h-1zM450.8 103.1h1v1h-1zM455.7 103.3h1v1h-1zM453.5 95.0h1v1h-1zM454.5 104.3h1v1h-1zM442.5 103.9h1v1h-1zM450.9 104.3h1v1h-1zM455.4 103.9h1v1h-1zM455.9 105.2h1v1h-1zM453.4 103.2h1v1h-1zM452.9 103.6h1v1h-1zM456.2 99.6h1v1h-1zM452.0 102.5h1v1h-1zM453.0 100.7h1v1h-1zM440.0 104.9h1v1h-1zM451.1 103.7h1v1h-1zM454.7 102.9h1v1h-1zM441.8 105.2h1v1h-1zM454.3 103.1h1v1h-1zM455.6 74.6h1v1h-1zM456.2 100.7h1v1h-1zM445.8 104.9h1v1h-1zM452.4 103.6h1v1h-1zM455.1 104.4h1v1h-1zM455.7 96.4h1v1h-1zM450.1 98.0h1v1h-1zM456.0 99.6h1v1h-1zM454.6 100.7h1v1h-1zM453.0 103.9h1v1h-1zM442.0 105.4h1v1h-1zM450.7 99.1h1v1h-1zM453.3 101.7h1v1h-1zM435.2 105.3h1v1h-1zM452.2 100.3h1v1h-1zM454.3 99.9h1v1h-1zM454.2 102.1h1v1h-1zM452.4 101.1h1v1h-1zM454.6 100.9h1v1h-1zM453.1 104.4h1v1h-1zM452.4 104.2h1v1h-1zM446.6 104.1h1v1h-1zM451.1 102.9h1v1h-1zM453.6 104.4h1v1h-1zM455.6 92.8h1v1h-1zM453.2 102.4h1v1h-1zM453.2 98.6h1v1h-1zM455.1 104.5h1v1h-1zM449.3 103.6h1v1h-1zM452.1 98.9h1v1h-1zM447.2 101.0h1v1h-1zM456.0 103.0h1v1h-1zM449.1 100.7h1v1h-1zM455.7 104.6h1v1h-1zM455.0 104.9h1v1h-1zM454.4 98.2h1v1h-1zM453.3 102.9h1v1h-1zM455.8 102.9h1v1h-1zM433.0 105.1h1v1h-1zM453.8 102.6h1v1h-1zM449.8 101.1h1v1h-1zM455.6 99.9h1v1h-1zM454.4 102.1h1v1h-1zM455.1 103.2h1v1h-1zM454.5 103.2h1v1h-1zM456.1 104.3h1v1h-1zM452.8 105.2h1v1h-1zM455.4 99.4h1v1h-1zM454.9 103.6h1v1h-1zM455.1 97.0h1v1h-1zM455.8 100.5h1v1h-1zM448.4 104.8h1v1h-1zM454.0 98.6h1v1h-1zM452.4 103.6h1v1h-1zM456.0 102.5h1v1h-1zM454.4 99.9h1v1h-1zM454.8 103.0h1v1h-1zM452.0 99.2h1v1h-1zM454.5 103.2h1v1h-1zM452.7 95.3h1v1h-1zM455.3 88.6h1v1h-1zM451.2 103.8h1v1h-1zM451.8 103.9h1v1h-1zM455.9 98.5h1v1h-1zM454.3 102.1h1v1h-1zM453.5 95.8h1v1h-1zM450.5 105.3h1v1h-1zM452.6 103.0h1v1h-1zM453.7 97.7h1v1h-1zM454.1 102.6h1v1h-1zM447.4 104.1h1v1h-1zM453.5 102.4h1v1h-1zM449.2 102.3h1v1h-1zM450.8 103.7h1v1h-1zM456.0 99.8h1v1h-1zM453.0 99.5h1v1h-1zM450.3 105.0h1v1h-1zM455.2 105.0h1v1h-1zM449.4 105.1h1v1h-1zM455.8 98.6h1v1h-1zM452.9 105.2h1v1h-1zM451.6 101.0h1v1h-1zM453.6 105.2h1v1h-1zM451.5 103.5h1v1h-1zM452.7 81.0h1v1h-1zM449.4 99.5h1v1h-1zM455.6 103.4h1v1h-1zM453.3 105.4h1v1h-1zM438.3 105.3h1v1h-1zM455.0 103.7h1v1h-1zM455.0 96.3h1v1h-1zM453.0 102.5h1v1h-1zM454.0 105.2h1v1h-1zM454.7 96.2h1v1h-1zM449.7 99.6h1v1h-1zM455.0 104.4h1v1h-1zM456.0 101.6h1v1h-1zM454.3 102.6h1v1h-1zM453.5 101.8h1v1h-1zM454.4 98.2h1v1h-1zM455.3 93.5h1v1h-1zM453.0 105.2h1v1h-1zM454.7 102.0h1v1h-1zM454.1 101.8h1v1h-1zM454.6 104.0h1v1h-1zM449.8 104.4h1v1h-1zM451.2 99.8h1v1h-1zM452.6 103.0h1v1h-1zM445.3 104.5h1v1h-1zM447.8 105.3h1v1h-1zM453.9 101.0h1v1h-1z"/><path fill="#FF5000" fill-opacity="1" d="M461.7 99.2h1v1h-1zM464.3 96.5h1v1h-1zM462.5 98.8h1v1h-1zM461.6 95.4h1v1h-1zM462.4 105.4h1v1h-1zM463.3 104.6h1v1h-1zM462.2 105.1h1v1h-1zM462.7 100.9h1v1h-1zM463.8 105.2h1v1h-1zM463.9 104.8h1v1h-1zM462.1 99.9h1v1h-1zM462.4 103.2h1v1h-1zM463.1 104.0h1v1h-1zM463.8 104.1h1v1h-1zM463.9 96.3h1v1h-1zM463.0 105.2h1v1h-1zM463.7 105.2h1v1h-1zM462.9 102.4h1v1h-1zM461.6 99.9h1v1h-1zM463.6 100.6h1v1h-1zM462.6 101.5h1v1h-1zM463.2 104.0h1v1h-1zM464.0 75.4h1v1h-1zM463.8 87.5h1v1h-1zM462.4 81.8h1v1h-1zM461.6 101.8h1v1h-1zM461.8 102.1h1v1h-1zM463.4 98.6h1v1h-1zM462.8 103.1h1v1h-1zM462.0 102.6h1v1h-1zM462.2 104.2h1v1h-1zM463.6 101.4h1v1h-1zM462.7 104.2h1v1h-1zM463.5 104.2h1v1h-1zM462.2 100.9h1v1h-1zM463.5 85.5h1v1h-1zM463.6 89.1h1v1h-1zM464.2 98.3h1v1h-1zM463.6 105.0h1v1h-1zM462.0 105.3h1v1h-1zM464.0 98.4h1v1h-1zM463.3 103.7h1v1h-1zM462.5 104.4h1v1h-1zM463.3 79.2h1v1h-1zM462.3 105.2h1v1h-1zM461.9 103.0h1v1h-1zM464.1 96.4h1v1h-1zM462.8 104.8h1v1h-1zM461.7 104.5h1v1h-1zM463.7 101.9h1v1h-1zM464.4 92.1h1v1h-1zM463.8 101.8h1v1h-1zM463.9 104.6h1v1h-1zM461.7 100.8h1v1h-1zM462.9 104.1h1v1h-1zM462.2 105.3h1v1h-1zM464.1 98.6h1v1h-1zM464.2 83.7h1v1h-1zM462.7 98.1h1v1h-1zM462.6 96.2h1v1h-1zM463.9 104.6h1v1h-1zM461.4 104.1h1v1h-1zM463.2 102.8h1v1h-1zM461.4 95.6h1v1h-1zM463.8 102.0h1v1h-1zM461.5 93.3h1v1h-1zM463.0 105.0h1v1h-1zM462.4 100.0h1v1h-1zM464.1 101.8h1v1h-1zM463.3 104.1h1v1h-1zM462.1 92.4h1v1h-1zM462.5 104.8h1v1h-1zM463.2 104.7h1v1h-1zM462.0 102.0h1v1h-1zM463.2 99.8h1v1h-1zM463.5 102.2h1v1h-1zM461.6 98.3h1v1h-1zM461.6 101.9h1v1h-1zM462.6 99.3h1v1h-1zM463.5 103.9h1v1h-1zM463.3 98.9h1v1h-1zM462.8 104.6h1v1h-1zM464.1 100.4h1v1h-1zM461.6 103.9h1v1h-1zM464.4 104.0h1v1h-1zM462.6 96.9h1v1h-1zM463.9 99.9h1v1h-1zM463.6 105.2h1v1h-1zM461.7 84.9h1v1h-1zM463.8 105.2h1v1h-1zM461.5 103.9h1v1h-1zM464.2 104.0h1v1h-1zM463.4 90.7h1v1h-1zM463.3 91.6h1v1h-1zM462.2 104.5h1v1h-1zM461.5 97.6h1v1h-1zM461.7 85.5h1v1h-1zM463.5 104.3h1v1h-1zM463.8 104.4h1v1h-1zM462.9 104.8h1v1h-1zM463.8 93.3h1v1h-1zM464.1 105.4h1v1h-1zM464.0 100.9h1v1h-1zM463.9 101.6h1v1h-1zM463.3 100.4h1v1h-1zM463.8 105.0h1v1h-1zM461.6 101.1h1v1h-1zM462.3 102.6h1v1h-1zM461.4 97.9h1v1h-1zM461.5 95.7h1v1h-1zM463.8 102.0h1v1h-1zM461.8 99.6h1v1h-1zM462.0 102.3h1v1h-1zM461.7 84.8h1v1h-1zM463.0 103.0h1v1h-1zM461.7 98.2h1v1h-1zM463.9 95.0h1v1h-1zM461.7 102.9h1v1h-1zM462.3 97.5h1v1h-1zM461.8 100.3h1v1h-1zM464.3 97.3h1v1h-1zM461.4 105.0h1v1h-1zM461.7 98.9h1v1h-1zM463.2 101.4h1v1h-1zM462.8 102.5h1v1h-1zM463.2 99.6h1v1h-1zM464.1 98.1h1v1h-1zM463.8 92.0h1v1h-1zM463.9 98.5h1v1h-1zM461.5 99.1h1v1h-1zM463.9 102.3h1v1h-1zM464.0 104.3h1v1h-1zM464.2 102.2h1v1h-1zM463.5 103.8h1v1h-1zM462.3 103.0h1v1h-1zM462.4 104.9h1v1h-1zM462.7 83.6h1v1h-1zM463.4 90.6h1v1h-1zM463.7 95.4h1v1h-1zM464.4 97.7h1v1h-1zM462.2 103.8h1v1h-1zM462.6 105.3h1v1h-1zM462.1 93.4h1v1h-1zM464.2 103.2h1v1h-1zM463.7 97.2h1v1h-1zM464.1 96.7h1v1h-1zM463.0 104.8h1v1h-1zM463.9 103.3h1v1h-1zM463.3 102.9h1v1h-1zM463.0 86.9h1v1h-1zM461.9 101.2h1v1h-1zM463.3 101.1h1v1h-1zM464.2 102.5h1v1h-1zM464.1 99.0h1v1h-1zM464.3 104.9h1v1h-1zM462.0 103.5h1v1h-1zM464.1 105.3h1v1h-1zM462.2 98.5h1v1h-1zM464.4 104.3h1v1h-1zM462.7 99.0h1v1h-1zM463.5 97.9h1v1h-1zM463.7 103.8h1v1h-1zM462.2 105.2h1v1h-1zM463.5 104.1h1v1h-1zM462.2 87.1h1v1h-1zM463.3 100.5h1v1h-1zM463.4 100.4h1v1h-1zM463.5 103.4h1v1h-1zM461.6 105.0h1v1h-1zM461.4 102.9h1v1h-1zM461.8 104.7h1v1h-1zM462.9 86.2h1v1h-1zM463.5 103.6h1v1h-1zM463.7 104.3h1v1h-1zM461.7 103.4h1v1h-1zM462.6 99.0h1v1h-1zM462.7 98.2h1v1h-1zM461.7 90.6h1v1h-1zM462.4 95.6h1v1h-1zM461.5 95.7h1v1h-1zM462.1 94.8h1v1h-1zM463.8 99.3h1v1h-1zM462.2 105.3h1v1h-1zM462.0 92.5h1v1h-1zM461.9 99.5h1v1h-1zM463.2 99.4h1v1h-1zM461.9 104.5h1v1h-1zM461.7 83.1h1v1h-1zM462.5 99.6h1v1h-1zM463.1 104.0h1v1h-1zM461.6 105.3h1v1h-1zM464.0 104.6h1v1h-1zM464.3 102.9h1v1h-1zM463.6 104.6h1v1h-1zM463.8 103.8h1v1h-1zM462.5 101.3h1v1h-1zM461.7 103.8h1v1h-1zM463.8 103.6h1v1h-1zM462.5 97.4h1v1h-1zM462.1 104.2h1v1h-1zM462.3 103.3h1v1h-1zM463.0 101.2h1v1h-1zM463.6 97.5h1v1h-1zM461.6 100.6h1v1h-1zM467.7 104.7h1v1h-1zM461.5 102.8h1v1h-1zM461.8 102.7h1v1h-1zM465.8 105.1h1v1h-1zM461.8 102.5h1v1h-1zM462.1 104.3h1v1h-1zM463.4 104.9h1v1h-1zM461.6 103.4h1v1h-1zM463.6 94.7h1v1h-1zM464.2 105.1h1v1h-1zM462.3 99.6h1v1h-1zM464.3 97.9h1v1h-1zM472.9 102.9h1v1h-1zM461.8 92.8h1v1h-1zM464.0 104.4h1v1h-1zM462.1 96.8h1v1h-1zM462.2 105.0h1v1h-1zM462.5 94.6h1v1h-1zM463.6 100.3h1v1h-1zM461.7 102.7h1v1h-1zM462.7 104.5h1v1h-1zM465.2 103.9h1v1h-1zM461.8 87.3h1v1h-1zM463.7 104.6h1v1h-1zM461.4 100.6h1v1h-1zM463.9 105.3h1v1h-1zM463.6 100.2h1v1h-1zM464.1 104.4h1v1h-1zM463.8 101.9h1v1h-1zM465.1 104.9h1v1h-1zM467.1 97.0h1v1h-1zM466.1 99.2h1v1h-1zM463.0 96.0h1v1h-1zM462.1 104.3h1v1h-1zM464.6 97.0h1v1h-1zM461.7 104.3h1v1h-1zM461.5 102.8h1v1h-1zM461.9 104.5h1v1h-1zM466.2 102.7h1v1h-1zM471.2 104.5h1v1h-1zM465.4 105.4h1v1h-1zM471.8 105.0h1v1h-1zM463.7 102.6h1v1h-1zM471.8 104.3h1v1h-1zM478.2 105.2h1v1h-1zM462.3 97.8h1v1h-1zM462.2 72.1h1v1h-1zM463.5 104.4h1v1h-1zM472.8 104.9h1v1h-1zM463.2 103.7h1v1h-1zM465.3 105.3h1v1h-1zM463.0 104.7h1v1h-1zM467.6 105.4h1v1h-1zM464.7 104.3h1v1h-1zM463.5 102.2h1v1h-1zM465.8 104.9h1v1h-1zM462.4 104.9h1v1h-1zM472.7 105.2h1v1h-1zM461.9 102.2h1v1h-1zM464.4 97.5h1v1h-1zM461.6 104.2h1v1h-1zM462.0 101.6h1v1h-1zM463.5 103.3h1v1h-1zM469.1 102.9h1v1h-1zM468.3 97.3h1v1h-1zM462.5 93.5h1v1h-1zM463.2 105.2h1v1h-1zM470.0 105.2h1v1h-1zM461.5 103.9h1v1h-1zM462.6 91.2h1v1h-1zM468.6 104.0h1v1h-1zM464.0 98.3h1v1h-1zM467.2 102.3h1v1h-1zM463.9 104.9h1v1h-1zM462.4 100.9h1v1h-1zM464.5 99.5h1v1h-1zM469.4 98.0h1v1h-1zM462.1 105.1h1v1h-1zM469.4 103.5h1v1h-1zM462.1 100.3h1v1h-1zM462.4 104.3h1v1h-1zM463.0 102.4h1v1h-1zM465.4 105.1h1v1h-1zM466.1 102.3h1v1h-1zM463.6 101.1h1v1h-1zM467.0 105.4h1v1h-1zM463.7 101.0h1v1h-1zM465.7 102.0h1v1h-1zM462.1 91.7h1v1h-1zM466.8 104.6h1v1h-1zM463.4 92.9h1v1h-1zM462.2 103.2h1v1h-1zM472.8 102.4h1v1h-1zM462.3 99.8h1v1h-1zM463.0 101.0h1v1h-1zM466.5 105.0h1v1h-1zM462.3 104.4h1v1h-1zM462.5 105.2h1v1h-1zM461.9 103.1h1v1h-1zM463.3 105.1h1v1h-1zM464.5 95.0h1v1h-1zM464.4 103.8h1v1h-1zM465.7 103.5h1v1h-1zM462.1 102.6h1v1h-1zM461.5 100.3h1v1h-1zM462.0 103.4h1v1h-1zM472.9 103.6h1v1h-1zM467.7 102.6h1v1h-1zM464.9 101.1h1v1h-1zM473.3 105.1h1v1h-1zM466.5 104.3h1v1h-1zM462.4 98.1h1v1h-1zM464.6 98.6h1v1h-1zM468.7 103.2h1v1h-1zM462.2 105.3h1v1h-1zM464.1 100.6h1v1h-1zM462.5 105.1h1v1h-1zM461.4 104.5h1v1h-1zM465.6 105.4h1v1h-1zM462.3 104.1h1v1h-1zM465.7 91.1h1v1h-1zM461.5 104.9h1v1h-1zM470.9 99.0h1v1h-1zM462.0 103.6h1v1h-1zM464.0 103.9h1v1h-1zM463.3 102.8h1v1h-1zM462.4 105.2h1v1h-1zM461.7 104.6h1v1h-1zM461.7 101.1h1v1h-1zM465.6 104.4h1v1h-1zM466.9 101.5h1v1h-1zM462.9 102.6h1v1h-1zM462.1 94.0h1v1h-1zM464.3 105.2h1v1h-1zM462.0 100.3h1v1h-1zM463.1 100.3h1v1h-1zM462.3 98.6h1v1h-1zM467.1 105.1h1v1h-1zM464.5 104.6h1v1h-1zM465.7 100.0h1v1h-1zM466.9 104.6h1v1h-1zM461.7 100.6h1v1h-1zM464.3 104.9h1v1h-1zM462.1 101.7h1v1h-1zM461.8 101.0h1v1h-1zM462.4 104.1h1v1h-1zM463.3 102.4h1v1h-1zM465.9 105.3h1v1h-1zM465.9 104.6h1v1h-1zM462.6 101.2h1v1h-1zM465.5 102.2h1v1h-1zM469.5 104.9h1v1h-1zM462.7 100.9h1v1h-1zM462.5 104.7h1v1h-1zM462.3 99.1h1v1h-1zM467.5 101.9h1v1h-1zM472.6 103.2h1v1h-1zM462.7 103.8h1v1h-1zM465.9 105.2h1v1h-1zM464.7 105.1h1v1h-1zM461.6 102.2h1v1h-1zM462.0 93.8h1v1h-1zM468.7 103.9h1v1h-1zM462.2 104.9h1v1h-1zM463.9 102.6h1v1h-1zM463.0 100.3h1v1h-1zM464.0 99.8h1v1h-1zM461.8 105.1h1v1h-1zM463.1 102.7h1v1h-1zM462.4 100.7h1v1h-1zM462.3 103.8h1v1h-1zM463.7 100.6h1v1h-1zM466.5 104.0h1v1h-1zM463.5 95.1h1v1h-1zM470.9 103.6h1v1h-1zM461.8 102.7h1v1h-1zM464.9 104.3h1v1h-1zM461.5 87.7h1v1h-1zM469.8 105.1h1v1h-1zM463.6 101.6h1v1h-1zM462.6 105.1h1v1h-1zM466.3 100.8h1v1h-1zM463.4 105.0h1v1h-1zM463.2 105.0h1v1h-1zM473.0 105.3h1v1h-1zM462.6 99.3h1v1h-1zM461.9 104.9h1v1h-1zM461.7 104.6h1v1h-1zM464.1 98.7h1v1h-1zM462.0 104.6h1v1h-1zM466.5 103.7h1v1h-1zM462.8 104.9h1v1h-1zM462.4 90.3h1v1h-1zM461.8 104.1h1v1h-1zM466.1 98.3h1v1h-1zM469.6 104.0h1v1h-1zM472.4 104.1h1v1h-1zM462.6 102.8h1v1h-1zM465.8 101.1h1v1h-1zM461.9 104.5h1v1h-1zM472.5 105.2h1v1h-1zM467.3 104.2h1v1h-1zM462.4 104.2h1v1h-1zM463.6 87.3h1v1h-1zM462.0 97.0h1v1h-1zM462.8 104.6h1v1h-1zM466.2 104.1h1v1h-1zM462.1 103.1h1v1h-1zM467.4 99.8h1v1h-1zM464.4 105.4h1v1h-1zM466.4 102.5h1v1h-1zM469.4 98.6h1v1h-1zM462.8 97.6h1v1h-1zM467.4 104.5h1v1h-1zM463.0 103.5h1v1h-1zM462.9 103.5h1v1h-1zM461.8 104.3h1v1h-1zM469.8 104.3h1v1h-1zM464.9 97.7h1v1h-1zM466.3 104.5h1v1h-1zM470.2 102.1h1v1h-1zM477.8 105.1h1v1h-1zM466.3 100.2h1v1h-1zM462.4 100.9h1v1h-1zM463.1 98.0h1v1h-1zM461.9 102.0h1v1h-1zM462.8 98.4h1v1h-1zM462.9 97.8h1v1h-1zM468.0 99.8h1v1h-1zM461.9 93.3h1v1h-1zM466.2 101.8h1v1h-1zM465.1 105.2h1v1h-1zM468.5 103.4h1v1h-1zM463.5 103.8h1v1h-1zM466.7 100.8h1v1h-1zM468.5 104.8h1v1h-1zM462.9 104.2h1v1h-1zM461.8 103.7h1v1h-1zM461.5 98.3h1v1h-1zM462.3 105.1h1v1h-1zM461.6 99.4h1v1h-1zM462.2 102.7h1v1h-1zM463.2 98.9h1v1h-1zM472.2 104.9h1v1h-1zM464.9 97.5h1v1h-1zM463.6 96.5h1v1h-1zM466.0 104.2h1v1h-1zM468.6 103.3h1v1h-1zM461.8 101.5h1v1h-1zM467.6 103.4h1v1h-1zM463.7 103.3h1v1h-1zM468.8 102.8h1v1h-1zM462.2 103.5h1v1h-1zM463.0 92.5h1v1h-1zM465.6 105.0h1v1h-1zM470.0 105.3h1v1h-1zM464.5 103.3h1v1h-1zM465.8 103.6h1v1h-1zM461.7 102.1h1v1h-1zM467.4 101.0h1v1h-1zM462.9 104.4h1v1h-1zM466.2 100.3h1v1h-1zM462.3 96.3h1v1h-1zM478.5 105.3h1v1h-1zM463.1 100.4h1v1h-1zM470.7 105.0h1v1h-1zM462.7 103.7h1v1h-1zM466.0 104.7h1v1h-1zM464.2 102.8h1v1h-1zM465.3 104.9h1v1h-1zM472.4 91.1h1v1h-1zM464.3 99.5h1v1h-1zM462.1 95.0h1v1h-1zM464.2 100.1h1v1h-1zM468.5 104.3h1v1h-1zM470.4 104.9h1v1h-1zM461.5 102.3h1v1h-1zM469.4 100.2h1v1h-1zM472.3 104.4h1v1h-1zM470.8 103.9h1v1h-1zM461.9 101.1h1v1h-1zM467.1 103.8h1v1h-1zM464.6 104.3h1v1h-1zM462.5 103.1h1v1h-1zM463.9 103.0h1v1h-1zM461.7 105.4h1v1h-1zM462.9 100.2h1v1h-1zM466.2 104.5h1v1h-1zM462.4 102.3h1v1h-1zM462.1 101.4h1v1h-1zM469.6 104.9h1v1h-1zM464.5 100.8h1v1h-1zM466.2 101.5h1v1h-1zM465.7 104.4h1v1h-1zM467.8 98.4h1v1h-1zM461.6 92.6h1v1h-1zM463.4 105.0h1v1h-1zM461.7 98.3h1v1h-1zM465.4 104.9h1v1h-1zM463.6 101.4h1v1h-1zM482.5 105.3h1v1h-1zM466.5 104.5h1v1h-1zM462.2 104.6h1v1h-1zM463.2 101.6h1v1h-1zM462.7 104.7h1v1h-1zM462.3 105.0h1v1h-1zM462.2 103.8h1v1h-1zM463.9 104.6h1v1h-1zM463.7 103.2h1v1h-1zM474.0 104.8h1v1h-1zM471.5 104.3h1v1h-1zM462.2 101.6h1v1h-1zM461.9 104.6h1v1h-1zM461.7 100.1h1v1h-1zM473.3 104.8h1v1h-1zM462.9 103.1h1v1h-1zM462.9 100.6h1v1h-1zM463.1 104.7h1v1h-1zM468.4 103.2h1v1h-1zM461.4 96.9h1v1h-1zM466.0 104.0h1v1h-1zM464.9 96.5h1v1h-1zM463.2 103.1h1v1h-1zM462.6 102.0h1v1h-1zM465.2 100.8h1v1h-1zM471.8 105.2h1v1h-1z"/><path fill="#BBBBBB" fill-opacity="0.8" d="M456.1 26.7h1v1h-1zM454.9 57.4h1v1h-1zM451.7 63.1h1v1h-1zM455.8 75.9h1v1h-1zM454.9 31.4h1v1h-1zM454.4 53.6h1v1h-1zM453.6 73.2h1v1h-1zM455.6 38.5h1v1h-1zM450.7 39.2h1v1h-1zM454.3 30.1h1v1h-1zM454.0 58.2h1v1h-1zM455.4 28.0h1v1h-1zM455.5 68.3h1v1h-1z"/><path fill="#FF5000" fill-opacity="0.8" d="M465.5 70.0h1v1h-1zM463.2 44.4h1v1h-1zM462.2 69.5h1v1h-1zM461.6 49.8h1v1h-1zM462.5 63.0h1v1h-1zM462.1 44.4h1v1h-1zM463.7 42.1h1v1h-1zM461.7 22.8h1v1h-1zM467.8 71.3h1v1h-1z"/><path fill="#BBBBBB" fill-opacity="0.5" d="M455.9 82.2h1v1h-1zM455.8 94.9h1v1h-1zM455.2 77.6h1v1h-1zM452.1 92.6h1v1h-1zM452.8 95.9h1v1h-1zM450.6 103.0h1v1h-1zM455.0 86.0h1v1h-1zM455.4 77.7h1v1h-1zM455.0 104.3h1v1h-1zM455.7 87.9h1v1h-1zM441.1 104.0h1v1h-1zM450.8 103.3h1v1h-1zM444.4 101.1h1v1h-1zM455.4 104.8h1v1h-1zM450.3 105.1h1v1h-1zM447.2 103.7h1v1h-1zM454.9 96.2h1v1h-1zM454.3 97.3h1v1h-1zM455.4 78.6h1v1h-1zM454.2 87.2h1v1h-1zM455.4 87.6h1v1h-1zM436.6 104.6h1v1h-1zM456.0 99.8h1v1h-1zM451.1 103.6h1v1h-1zM452.3 104.6h1v1h-1zM453.1 94.0h1v1h-1zM453.4 95.1h1v1h-1zM455.6 85.5h1v1h-1zM455.5 76.5h1v1h-1zM428.4 103.3h1v1h-1zM452.5 102.6h1v1h-1zM454.1 92.0h1v1h-1zM452.8 82.8h1v1h-1zM455.7 97.8h1v1h-1zM446.2 101.4h1v1h-1zM452.3 104.6h1v1h-1zM455.4 101.9h1v1h-1zM445.0 98.1h1v1h-1zM454.9 78.1h1v1h-1zM456.0 94.6h1v1h-1zM439.1 104.5h1v1h-1zM441.8 102.4h1v1h-1zM455.9 100.7h1v1h-1zM453.2 102.9h1v1h-1zM449.4 104.2h1v1h-1zM448.5 103.4h1v1h-1zM455.8 95.9h1v1h-1zM455.7 96.2h1v1h-1zM448.4 100.4h1v1h-1zM453.1 105.1h1v1h-1zM452.6 104.5h1v1h-1zM451.0 104.4h1v1h-1zM451.9 102.0h1v1h-1zM453.9 95.1h1v1h-1zM455.3 103.4h1v1h-1zM442.0 104.2h1v1h-1zM447.0 95.5h1v1h-1zM452.9 104.0h1v1h-1zM455.7 81.3h1v1h-1zM455.6 97.7h1v1h-1zM452.4 104.4h1v1h-1zM453.0 103.8h1v1h-1zM452.4 99.6h1v1h-1zM453.9 103.3h1v1h-1zM453.6 103.3h1v1h-1zM455.5 102.3h1v1h-1zM445.9 102.4h1v1h-1zM445.1 105.3h1v1h-1zM441.8 103.5h1v1h-1zM448.4 100.8h1v1h-1zM450.4 103.7h1v1h-1zM449.3 104.4h1v1h-1zM454.7 105.1h1v1h-1zM453.7 98.6h1v1h-1zM454.5 83.1h1v1h-1zM455.8 95.5h1v1h-1zM454.9 95.9h1v1h-1zM448.5 98.5h1v1h-1zM455.9 102.1h1v1h-1zM451.6 74.5h1v1h-1zM456.0 94.1h1v1h-1zM450.3 94.2h1v1h-1zM454.1 89.2h1v1h-1zM453.1 83.1h1v1h-1zM456.1 71.8h1v1h-1zM453.5 100.6h1v1h-1zM455.7 102.2h1v1h-1zM449.6 98.4h1v1h-1zM455.4 100.7h1v1h-1zM455.4 102.9h1v1h-1zM455.0 101.1h1v1h-1zM437.6 94.4h1v1h-1zM448.4 101.8h1v1h-1zM452.8 92.5h1v1h-1zM444.3 100.3h1v1h-1zM451.1 103.8h1v1h-1zM451.3 91.7h1v1h-1zM448.5 104.9h1v1h-1zM449.9 102.7h1v1h-1zM455.3 68.3h1v1h-1zM450.6 96.0h1v1h-1zM455.5 85.7h1v1h-1zM442.4 98.3h1v1h-1zM449.4 94.6h1v1h-1zM448.1 100.6h1v1h-1zM453.3 89.7h1v1h-1zM448.5 94.0h1v1h-1zM454.4 72.8h1v1h-1zM452.4 81.4h1v1h-1zM455.6 66.4h1v1h-1zM448.5 103.8h1v1h-1zM447.1 104.1h1v1h-1zM455.1 98.8h1v1h-1zM454.8 98.3h1v1h-1zM444.3 101.2h1v1h-1zM450.0 102.2h1v1h-1zM448.5 96.6h1v1h-1zM450.5 86.2h1v1h-1zM447.5 102.8h1v1h-1zM455.7 93.3h1v1h-1zM447.2 103.4h1v1h-1zM451.7 91.6h1v1h-1zM448.3 105.4h1v1h-1zM452.8 105.3h1v1h-1zM455.6 86.5h1v1h-1zM453.5 96.9h1v1h-1zM453.1 101.8h1v1h-1zM455.0 100.8h1v1h-1zM446.9 100.8h1v1h-1zM454.5 104.5h1v1h-1zM454.6 93.0h1v1h-1zM453.3 95.7h1v1h-1zM448.0 104.7h1v1h-1zM450.5 105.1h1v1h-1zM447.5 104.4h1v1h-1zM454.6 73.0h1v1h-1zM453.9 103.0h1v1h-1zM445.2 101.6h1v1h-1zM445.0 103.4h1v1h-1zM452.7 78.9h1v1h-1zM452.7 67.7h1v1h-1zM455.1 86.2h1v1h-1zM455.3 97.2h1v1h-1zM456.2 103.1h1v1h-1zM441.7 103.7h1v1h-1zM447.9 103.9h1v1h-1zM454.0 104.4h1v1h-1zM452.2 89.5h1v1h-1zM452.6 101.4h1v1h-1zM443.0 98.2h1v1h-1zM450.7 104.9h1v1h-1zM451.3 101.1h1v1h-1zM440.4 104.3h1v1h-1zM450.8 98.4h1v1h-1zM453.8 98.4h1v1h-1zM450.6 89.2h1v1h-1zM452.8 101.6h1v1h-1zM437.5 105.3h1v1h-1zM447.2 99.8h1v1h-1zM452.1 100.7h1v1h-1zM449.2 92.1h1v1h-1zM449.7 96.7h1v1h-1zM456.0 100.8h1v1h-1zM455.5 71.3h1v1h-1zM445.1 104.8h1v1h-1zM451.8 98.8h1v1h-1zM456.0 99.6h1v1h-1zM449.3 99.2h1v1h-1zM454.6 90.8h1v1h-1zM454.5 97.5h1v1h-1zM453.5 70.5h1v1h-1zM451.0 93.8h1v1h-1zM450.6 102.1h1v1h-1zM439.7 102.5h1v1h-1zM450.3 103.2h1v1h-1zM455.3 96.0h1v1h-1zM447.5 97.5h1v1h-1zM454.1 103.9h1v1h-1zM452.6 87.9h1v1h-1zM455.3 90.7h1v1h-1zM455.3 101.3h1v1h-1zM455.9 101.3h1v1h-1zM453.8 73.3h1v1h-1zM439.8 104.9h1v1h-1zM454.3 76.7h1v1h-1zM455.1 101.2h1v1h-1zM453.3 104.4h1v1h-1zM454.7 100.2h1v1h-1zM453.8 74.2h1v1h-1zM454.6 103.1h1v1h-1zM444.2 103.2h1v1h-1zM447.1 100.5h1v1h-1zM448.7 103.3h1v1h-1zM455.4 89.8h1v1h-1zM453.0 98.3h1v1h-1zM450.6 95.8h1v1h-1zM454.6 100.8h1v1h-1zM443.7 102.8h1v1h-1zM454.5 95.3h1v1h-1zM454.7 90.2h1v1h-1zM421.3 103.3h1v1h-1zM435.4 102.7h1v1h-1zM420.1 104.9h1v1h-1zM442.7 105.1h1v1h-1zM439.7 103.4h1v1h-1zM422.1 102.7h1v1h-1zM433.1 103.8h1v1h-1zM433.3 104.3h1v1h-1zM422.4 102.2h1v1h-1zM422.7 104.8h1v1h-1zM429.3 102.4h1v1h-1zM436.2 101.8h1v1h-1zM420.2 102.4h1v1h-1zM423.4 102.8h1v1h-1zM421.1 104.9h1v1h-1zM428.0 102.6h1v1h-1zM431.7 104.3h1v1h-1zM453.5 103.0h1v1h-1zM423.2 104.3h1v1h-1zM447.7 104.5h1v1h-1z"/><path fill="#FF5000" fill-opacity="0.5" d="M463.7 90.2h1v1h-1zM469.2 101.3h1v1h-1zM467.1 103.0h1v1h-1zM475.9 103.5h1v1h-1zM464.0 103.8h1v1h-1zM462.0 84.0h1v1h-1zM469.5 105.3h1v1h-1zM463.4 100.0h1v1h-1zM464.8 102.2h1v1h-1zM472.7 104.0h1v1h-1zM465.2 87.3h1v1h-1zM466.5 101.5h1v1h-1zM463.4 101.4h1v1h-1zM466.1 95.8h1v1h-1zM462.9 101.4h1v1h-1zM463.9 101.9h1v1h-1zM473.6 103.1h1v1h-1zM463.0 102.0h1v1h-1zM470.0 104.7h1v1h-1zM467.3 105.3h1v1h-1zM462.5 104.8h1v1h-1zM469.6 104.7h1v1h-1zM462.7 104.9h1v1h-1zM462.9 94.1h1v1h-1zM467.8 92.6h1v1h-1zM476.1 103.6h1v1h-1zM474.2 105.1h1v1h-1zM474.4 103.8h1v1h-1zM462.5 93.0h1v1h-1zM471.2 103.6h1v1h-1zM461.9 85.8h1v1h-1zM468.4 100.9h1v1h-1zM480.2 105.3h1v1h-1zM461.7 104.1h1v1h-1zM461.5 93.2h1v1h-1zM466.4 104.7h1v1h-1zM462.3 103.6h1v1h-1zM466.1 98.4h1v1h-1zM478.9 104.6h1v1h-1zM480.7 104.6h1v1h-1zM463.9 103.1h1v1h-1zM462.7 73.2h1v1h-1zM487.8 104.5h1v1h-1zM462.4 103.6h1v1h-1zM462.2 101.4h1v1h-1zM468.1 105.1h1v1h-1zM465.2 97.6h1v1h-1zM461.6 99.7h1v1h-1zM469.2 101.5h1v1h-1zM464.4 89.6h1v1h-1zM466.0 102.8h1v1h-1zM463.9 83.1h1v1h-1zM471.2 96.2h1v1h-1zM465.5 104.4h1v1h-1zM462.4 101.0h1v1h-1zM467.3 105.4h1v1h-1zM469.5 98.5h1v1h-1zM465.0 105.4h1v1h-1zM469.4 103.0h1v1h-1zM466.9 100.5h1v1h-1zM467.9 102.7h1v1h-1zM477.5 99.2h1v1h-1zM474.6 102.9h1v1h-1zM463.3 101.5h1v1h-1zM463.0 85.4h1v1h-1zM469.3 98.3h1v1h-1zM470.0 85.6h1v1h-1zM467.2 103.3h1v1h-1zM468.5 103.9h1v1h-1zM466.1 104.3h1v1h-1zM471.1 102.9h1v1h-1zM463.0 83.6h1v1h-1zM461.8 79.9h1v1h-1zM468.5 104.6h1v1h-1zM468.6 101.2h1v1h-1zM473.3 102.7h1v1h-1zM464.2 84.9h1v1h-1zM461.9 91.1h1v1h-1zM461.9 102.3h1v1h-1zM462.0 86.1h1v1h-1zM464.3 95.7h1v1h-1zM462.9 94.1h1v1h-1zM466.6 104.8h1v1h-1zM464.8 96.3h1v1h-1zM462.6 96.0h1v1h-1zM463.0 101.5h1v1h-1zM474.0 97.3h1v1h-1zM492.2 105.1h1v1h-1zM465.6 94.6h1v1h-1zM468.5 102.4h1v1h-1zM471.4 103.5h1v1h-1zM476.4 104.0h1v1h-1zM462.0 92.4h1v1h-1zM462.2 94.9h1v1h-1zM461.7 62.1h1v1h-1zM465.3 96.3h1v1h-1zM462.1 96.0h1v1h-1zM463.8 103.1h1v1h-1zM469.8 105.3h1v1h-1zM464.6 104.7h1v1h-1zM470.9 96.8h1v1h-1zM461.6 99.3h1v1h-1zM464.6 96.2h1v1h-1zM467.9 103.2h1v1h-1zM474.9 104.9h1v1h-1zM462.1 89.7h1v1h-1zM462.0 103.5h1v1h-1zM464.9 102.5h1v1h-1zM462.3 81.1h1v1h-1zM464.6 94.2h1v1h-1zM462.8 84.3h1v1h-1zM462.6 84.5h1v1h-1zM466.1 83.4h1v1h-1zM468.8 100.6h1v1h-1zM465.2 92.2h1v1h-1zM464.3 104.6h1v1h-1zM473.7 100.6h1v1h-1zM467.1 97.7h1v1h-1zM462.7 99.9h1v1h-1zM470.1 91.6h1v1h-1zM477.7 100.6h1v1h-1zM472.2 102.7h1v1h-1zM470.2 105.3h1v1h-1zM467.1 104.8h1v1h-1zM469.4 102.3h1v1h-1zM477.2 100.7h1v1h-1zM480.6 103.6h1v1h-1zM488.0 102.2h1v1h-1zM476.6 101.1h1v1h-1zM480.2 103.6h1v1h-1zM478.3 103.9h1v1h-1zM488.5 104.2h1v1h-1zM488.6 105.1h1v1h-1zM461.7 102.6h1v1h-1zM467.2 102.9h1v1h-1zM464.7 101.2h1v1h-1z"/><path d="M457.3,88.3 L458.2,88.3 L459.3,105.7 L460.40000000000003,88.3 L461.3,88.3 L461.3,106.6 L457.3,106.6Z M454.8,106.3 L457.3,100.3 L457.3,106.3Z M463.8,106.3 L461.3,100.3 L461.3,106.3Z M445.3,106.0 L454.3,105.0 L464.3,105.0 L475.3,106.0 L475.3,106.7 L445.3,106.7Z" fill="#000"/><line x1="402.5" y1="18.9" x2="516.6" y2="18.9" stroke="#d8d8d8" stroke-width="1.3"/><line x1="516.6" y1="18.9" x2="516.6" y2="110.4" stroke="#d8d8d8" stroke-width="1.0"/><line x1="402.5" y1="18.9" x2="402.5" y2="110.4" stroke="#888" stroke-width="0.8"/><line x1="402.5" y1="110.4" x2="516.6" y2="110.4" stroke="#c4c4c4" stroke-width="1.6"/><line x1="402.5" y1="106.3" x2="516.6" y2="106.3" stroke="#666" stroke-width="0.8"/><line x1="457.3" y1="18.9" x2="457.3" y2="110.4" stroke="#555" stroke-width="0.9"/><line x1="461.3" y1="18.9" x2="461.3" y2="110.4" stroke="#555" stroke-width="0.9"/><text x="398.9" y="26.650000000000002" font-size="8" text-anchor="end" fill="#111" >300</text><line x1="401.3" y1="23.8" x2="402.5" y2="23.8" stroke="#777" stroke-width="0.6"/><text x="398.9" y="54.95" font-size="8" text-anchor="end" fill="#111" >200</text><line x1="401.3" y1="52.1" x2="402.5" y2="52.1" stroke="#777" stroke-width="0.6"/><text x="398.9" y="81.94999999999999" font-size="8" text-anchor="end" fill="#111" >100</text><line x1="401.3" y1="79.1" x2="402.5" y2="79.1" stroke="#777" stroke-width="0.6"/><text x="398.9" y="108.64999999999999" font-size="8" text-anchor="end" fill="#111" >0</text><line x1="401.3" y1="105.8" x2="402.5" y2="105.8" stroke="#777" stroke-width="0.6"/><text x="421.4" y="126.3" font-size="8" text-anchor="middle" fill="#111" >-10</text><line x1="424" y1="110.4" x2="424" y2="111.30000000000001" stroke="#777" stroke-width="0.6"/><text x="459.1" y="126.3" font-size="8" text-anchor="middle" fill="#111" >0</text><line x1="459.3" y1="110.4" x2="459.3" y2="111.30000000000001" stroke="#777" stroke-width="0.6"/><text x="493.8" y="126.3" font-size="8" text-anchor="middle" fill="#111" >10</text><line x1="494" y1="110.4" x2="494" y2="111.30000000000001" stroke="#777" stroke-width="0.6"/><text transform="translate(371,70) rotate(-90)" font-size="9.5" text-anchor="middle" fill="#111">-log<tspan font-size="5.4" dy="1.7">10</tspan><tspan dy="-1.7">(FDR)</tspan></text><text x="459.7" y="139.5" font-size="9.5" text-anchor="middle" fill="#111">log<tspan font-size="5.4" dy="1.7">2</tspan><tspan dy="-1.7">[FC(</tspan><tspan font-style="italic">lec1</tspan>/WT)]</text><text x="433.4" y="10.9" font-size="9.5" text-anchor="start" textLength="51.5" lengthAdjust="spacingAndGlyphs" fill="#111" >DEGs at DE</text><text x="408.1" y="33.8" font-size="9.2" text-anchor="start" fill="#111" >Down</text><text x="408.1" y="44" font-size="8" text-anchor="start" fill="#111" >(1465)</text><text x="511.6" y="33" font-size="9.2" text-anchor="end" fill="#111" >Up</text><text x="511.6" y="43.2" font-size="8" text-anchor="end" fill="#111" >(1397)</text><defs><clipPath id="v209b"><circle cx="253.4" cy="67.3" r="39.3"/></clipPath></defs><circle cx="209.4" cy="66.4" r="25.3" fill="#FEF1DA" stroke="none" stroke-width="0.8"/><circle cx="253.4" cy="67.3" r="39.3" fill="#F2BDA7" stroke="none" stroke-width="0.8"/><circle cx="298.1" cy="66" r="27" fill="#D9C1EF" stroke="none" stroke-width="0.8"/><g clip-path="url(#v209b)"><circle cx="209.4" cy="66.4" r="25.3" fill="#F3C697" stroke="none" stroke-width="0.8"/><circle cx="298.1" cy="66" r="27" fill="#BF8BA2" stroke="none" stroke-width="0.8"/></g><circle cx="209.4" cy="66.4" r="25.3" fill="none" stroke="#222" stroke-width="0.9"/><circle cx="253.4" cy="67.3" r="39.3" fill="none" stroke="#222" stroke-width="0.9"/><circle cx="298.1" cy="66" r="27" fill="none" stroke="#222" stroke-width="0.9"/><text x="198.7" y="66.6" font-size="9.5" text-anchor="middle" fill="#111" >800</text><text x="222.4" y="74.3" font-size="9.5" text-anchor="middle" fill="#111" >423</text><text x="252.3" y="83.9" font-size="9.5" text-anchor="middle" fill="#111" >6642</text><text x="280.8" y="65.3" font-size="9.5" text-anchor="middle" fill="#111" >314</text><text x="305.4" y="74.5" font-size="9.5" text-anchor="middle" fill="#111" >988</text><text x="252.6" y="11.1" font-size="9.5" text-anchor="middle" fill="#111" >LEC1-binding</text><text x="252.6" y="23.3" font-size="9.5" text-anchor="middle" fill="#111" >(7379)</text><text x="204.7" y="110" font-size="9.5" text-anchor="middle" fill="#111" >Down in <tspan font-style="italic">lec1</tspan></text><text x="204.7" y="121.3" font-size="9.5" text-anchor="middle" fill="#111" >(1223)</text><text x="300.6" y="110" font-size="9.5" text-anchor="middle" fill="#111" >Up in <tspan font-style="italic">lec1</tspan></text><text x="301" y="121.3" font-size="9.5" text-anchor="middle" fill="#111" >(1302)</text><defs><clipPath id="v557b"><circle cx="600.5" cy="67.3" r="39.3"/></clipPath></defs><circle cx="557.2" cy="65.9" r="25.5" fill="#D3D0D0" stroke="none" stroke-width="0.8"/><circle cx="600.5" cy="67.3" r="39.3" fill="#F2BFA9" stroke="none" stroke-width="0.8"/><circle cx="646.1" cy="66" r="27" fill="#F3D1B7" stroke="none" stroke-width="0.8"/><g clip-path="url(#v557b)"><circle cx="557.2" cy="65.9" r="25.5" fill="#C9A399" stroke="none" stroke-width="0.8"/><circle cx="646.1" cy="66" r="27" fill="#E1A07F" stroke="none" stroke-width="0.8"/></g><circle cx="557.2" cy="65.9" r="25.5" fill="none" stroke="#222" stroke-width="0.9"/><circle cx="600.5" cy="67.3" r="39.3" fill="none" stroke="#222" stroke-width="0.9"/><circle cx="646.1" cy="66" r="27" fill="none" stroke="#222" stroke-width="0.9"/><text x="547" y="66.7" font-size="9.5" text-anchor="middle" fill="#111" >1075</text><text x="570.3" y="73.9" font-size="9.5" text-anchor="middle" fill="#111" >390</text><text x="600.8" y="86.5" font-size="9.5" text-anchor="middle" fill="#111" >6560</text><text x="629.3" y="70.8" font-size="9.5" text-anchor="middle" fill="#111" >429</text><text x="657.3" y="76.3" font-size="9.5" text-anchor="middle" fill="#111" >968</text><text x="601.2" y="11.1" font-size="9.5" text-anchor="middle" fill="#111" >LEC1-binding</text><text x="601.1" y="23.3" font-size="9.5" text-anchor="middle" fill="#111" >(7379)</text><text x="550.6" y="110" font-size="9.5" text-anchor="middle" fill="#111" >Down in <tspan font-style="italic">lec1</tspan></text><text x="550.1" y="121.3" font-size="9.5" text-anchor="middle" fill="#111" >(1465)</text><text x="651.2" y="110" font-size="9.5" text-anchor="middle" fill="#111" >Up in <tspan font-style="italic">lec1</tspan></text><text x="651.3" y="121.3" font-size="9.5" text-anchor="middle" fill="#111" >(1397)</text><rect x="106.3" y="168.3" width="59.10000000000001" height="84.5" fill="none" stroke="#333" stroke-width="0.9"/><text x="6.9" y="179.0" font-size="8.2" text-anchor="start" textLength="91.7" lengthAdjust="spacingAndGlyphs" fill="#111" class="c">Positive regulation of small</text><text x="6.9" y="189.1" font-size="8.2" text-anchor="start" textLength="94.3" lengthAdjust="spacingAndGlyphs" fill="#111" class="c">molecule metabolic process</text><line x1="104.7" y1="183.8" x2="106.3" y2="183.8" stroke="#333" stroke-width="0.6"/><circle cx="134.8" cy="183.8" r="3.5" fill="#F8A55A" stroke="none" stroke-width="0.8"/><text x="3.9" y="212.89999999999998" font-size="8.2" text-anchor="start" textLength="96.2" lengthAdjust="spacingAndGlyphs" fill="#111" class="c">Macromolecule biosynthetic</text><line x1="104.7" y1="210.2" x2="106.3" y2="210.2" stroke="#333" stroke-width="0.6"/><circle cx="135.1" cy="210.2" r="1.0" fill="#333" stroke="none" stroke-width="0.8"/><text x="43" y="239.79999999999998" font-size="8.2" text-anchor="start" textLength="57.1" lengthAdjust="spacingAndGlyphs" fill="#111" class="c">Gene expression</text><line x1="104.7" y1="237.1" x2="106.3" y2="237.1" stroke="#333" stroke-width="0.6"/><circle cx="159.5" cy="237.1" r="0.9" fill="#333" stroke="none" stroke-width="0.8"/><text x="110" y="266.1" font-size="8" text-anchor="middle" fill="#111" >0</text><line x1="108.2" y1="252.8" x2="108.2" y2="254.0" stroke="#333" stroke-width="0.6"/><text x="123.3" y="266.1" font-size="8" text-anchor="middle" fill="#111" >1</text><line x1="122.3" y1="252.8" x2="122.3" y2="254.0" stroke="#333" stroke-width="0.6"/><text x="136.8" y="266.1" font-size="8" text-anchor="middle" fill="#111" >2</text><line x1="135.8" y1="252.8" x2="135.8" y2="254.0" stroke="#333" stroke-width="0.6"/><text x="150.7" y="266.1" font-size="8" text-anchor="middle" fill="#111" >3</text><line x1="149.6" y1="252.8" x2="149.6" y2="254.0" stroke="#333" stroke-width="0.6"/><text x="163.6" y="266.1" font-size="8" text-anchor="middle" fill="#111" >4</text><line x1="163.4" y1="252.8" x2="163.4" y2="254.0" stroke="#333" stroke-width="0.6"/><text x="135" y="276.3" font-size="9.5" text-anchor="middle" fill="#111">-log<tspan font-size="5.4" dy="1.7">10</tspan><tspan dy="-1.7">(FDR)</tspan></text><rect x="99.2" y="293" width="67.39999999999999" height="98.39999999999998" fill="none" stroke="#333" stroke-width="0.9"/><text x="4.7" y="302.5" font-size="8.6" text-anchor="start" textLength="91.7" lengthAdjust="spacingAndGlyphs" fill="#111" class="c">Xenobiotic export from cell</text><line x1="97.60000000000001" y1="299.8" x2="99.2" y2="299.8" stroke="#333" stroke-width="0.6"/><circle cx="133" cy="299.8" r="2.7" fill="#C35CF2" stroke="none" stroke-width="0.8"/><text x="4.7" y="313.5" font-size="8.6" text-anchor="start" textLength="91.7" lengthAdjust="spacingAndGlyphs" fill="#111" class="c">Shoot system development</text><line x1="97.60000000000001" y1="310.8" x2="99.2" y2="310.8" stroke="#333" stroke-width="0.6"/><circle cx="145.2" cy="310.8" r="1.6" fill="#C35CF2" stroke="none" stroke-width="0.8"/><text x="6.6" y="323.3" font-size="8.6" text-anchor="start" textLength="89.8" lengthAdjust="spacingAndGlyphs" fill="#111" class="c">Regulation of transcription</text><line x1="97.60000000000001" y1="320.6" x2="99.2" y2="320.6" stroke="#333" stroke-width="0.6"/><circle cx="139" cy="320.6" r="1.0" fill="#C35CF2" stroke="none" stroke-width="0.8"/><text x="11.7" y="334.2" font-size="8.6" text-anchor="start" textLength="84.7" lengthAdjust="spacingAndGlyphs" fill="#111" class="c">Plant organ development</text><line x1="97.60000000000001" y1="331.5" x2="99.2" y2="331.5" stroke="#333" stroke-width="0.6"/><circle cx="130.8" cy="331.5" r="1.2" fill="#C35CF2" stroke="none" stroke-width="0.8"/><text x="3.0" y="344.7" font-size="8.6" text-anchor="start" textLength="93.4" lengthAdjust="spacingAndGlyphs" fill="#111" class="c">Glutamine family metabolic</text><line x1="97.60000000000001" y1="342" x2="99.2" y2="342" stroke="#333" stroke-width="0.6"/><circle cx="128.8" cy="342" r="2.6" fill="#C35CF2" stroke="none" stroke-width="0.8"/><text x="27.4" y="355.2" font-size="8.6" text-anchor="start" textLength="69.0" lengthAdjust="spacingAndGlyphs" fill="#111" class="c">Gibberellin catabolic</text><line x1="97.60000000000001" y1="352.5" x2="99.2" y2="352.5" stroke="#333" stroke-width="0.6"/><circle cx="133.3" cy="352.5" r="4.0" fill="#C35CF2" stroke="none" stroke-width="0.8"/><text x="16.8" y="366.0" font-size="8.6" text-anchor="start" textLength="79.6" lengthAdjust="spacingAndGlyphs" fill="#111" class="c">Gibberellin biosynthetic</text><line x1="97.60000000000001" y1="363.3" x2="99.2" y2="363.3" stroke="#333" stroke-width="0.6"/><circle cx="130.8" cy="363.3" r="3.0" fill="#C35CF2" stroke="none" stroke-width="0.8"/><text x="9.1" y="376.9" font-size="8.6" text-anchor="start" textLength="87.3" lengthAdjust="spacingAndGlyphs" fill="#111" class="c">Brassinosteroid metabolic</text><line x1="97.60000000000001" y1="374.2" x2="99.2" y2="374.2" stroke="#333" stroke-width="0.6"/><circle cx="128.5" cy="374.2" r="3.0" fill="#C35CF2" stroke="none" stroke-width="0.8"/><text x="0.2" y="387.3" font-size="8.6" text-anchor="start" textLength="96.2" lengthAdjust="spacingAndGlyphs" fill="#111" class="c">Brassinosteroid homeostasis</text><line x1="97.60000000000001" y1="384.6" x2="99.2" y2="384.6" stroke="#333" stroke-width="0.6"/><circle cx="135.2" cy="384.6" r="3.0" fill="#C35CF2" stroke="none" stroke-width="0.8"/><text x="102.5" y="403.6" font-size="8" text-anchor="middle" fill="#111" >0</text><line x1="102.5" y1="391.4" x2="102.5" y2="392.59999999999997" stroke="#333" stroke-width="0.6"/><text x="123.3" y="403.6" font-size="8" text-anchor="middle" fill="#111" >1</text><line x1="123.3" y1="391.4" x2="123.3" y2="392.59999999999997" stroke="#333" stroke-width="0.6"/><text x="143.9" y="403.6" font-size="8" text-anchor="middle" fill="#111" >2</text><line x1="143.9" y1="391.4" x2="143.9" y2="392.59999999999997" stroke="#333" stroke-width="0.6"/><text x="163.8" y="403.6" font-size="8" text-anchor="middle" fill="#111" >3</text><line x1="163.8" y1="391.4" x2="163.8" y2="392.59999999999997" stroke="#333" stroke-width="0.6"/><text x="131.5" y="415.5" font-size="9.5" text-anchor="middle" fill="#111">-log<tspan font-size="5.4" dy="1.7">10</tspan><tspan dy="-1.7">(FDR)</tspan></text><rect x="457.6" y="155.5" width="58.89999999999998" height="105.60000000000002" fill="none" stroke="#333" stroke-width="0.9"/><text x="386.4" y="163.1" font-size="8.2" text-anchor="start" textLength="67.4" lengthAdjust="spacingAndGlyphs" fill="#111" class="c">Xylem development</text><line x1="456.0" y1="160.4" x2="457.6" y2="160.4" stroke="#333" stroke-width="0.6"/><circle cx="483.7" cy="160.4" r="2.8" fill="#C8C8C8" stroke="none" stroke-width="0.8"/><text x="373.1" y="171.18" font-size="8.2" text-anchor="start" textLength="80.7" lengthAdjust="spacingAndGlyphs" fill="#111" class="c">Somatic embryogenesis</text><line x1="456.0" y1="168.48000000000002" x2="457.6" y2="168.48000000000002" stroke="#333" stroke-width="0.6"/><circle cx="491.6" cy="168.48000000000002" r="3.7" fill="#C8C8C8" stroke="none" stroke-width="0.8"/><text x="354.9" y="179.26" font-size="8.2" text-anchor="start" textLength="98.9" lengthAdjust="spacingAndGlyphs" fill="#111" class="c">Shoot system morphogenesis</text><line x1="456.0" y1="176.56" x2="457.6" y2="176.56" stroke="#333" stroke-width="0.6"/><circle cx="478.3" cy="176.56" r="1.8" fill="#C8C8C8" stroke="none" stroke-width="0.8"/><text x="395.9" y="187.34" font-size="8.2" text-anchor="start" textLength="57.9" lengthAdjust="spacingAndGlyphs" fill="#111" class="c">Response to lipid</text><line x1="456.0" y1="184.64000000000001" x2="457.6" y2="184.64000000000001" stroke="#333" stroke-width="0.6"/><circle cx="492.4" cy="184.64000000000001" r="0.9" fill="#C8C8C8" stroke="none" stroke-width="0.8"/><text x="344.8" y="195.42" font-size="8.2" text-anchor="start" textLength="109.0" lengthAdjust="spacingAndGlyphs" fill="#111" class="c">Regulation of seed development</text><line x1="456.0" y1="192.72" x2="457.6" y2="192.72" stroke="#333" stroke-width="0.6"/><circle cx="475" cy="192.72" r="2.9" fill="#C8C8C8" stroke="none" stroke-width="0.8"/><text x="346.5" y="203.5" font-size="8.2" text-anchor="start" textLength="107.3" lengthAdjust="spacingAndGlyphs" fill="#111" class="c">Post-embryonic morphogenesis</text><line x1="456.0" y1="200.8" x2="457.6" y2="200.8" stroke="#333" stroke-width="0.6"/><circle cx="478.3" cy="200.8" r="1.7" fill="#C8C8C8" stroke="none" stroke-width="0.8"/><text x="343" y="211.57999999999998" font-size="8.2" text-anchor="start" textLength="110.8" lengthAdjust="spacingAndGlyphs" fill="#111" class="c">Positive regulation of organismal</text><line x1="456.0" y1="208.88" x2="457.6" y2="208.88" stroke="#333" stroke-width="0.6"/><circle cx="479.5" cy="208.88" r="2.2" fill="#C8C8C8" stroke="none" stroke-width="0.8"/><text x="336.8" y="219.66" font-size="8.2" text-anchor="start" textLength="117.0" lengthAdjust="spacingAndGlyphs" fill="#111" class="c">Positive regulation of transcription</text><line x1="456.0" y1="216.96" x2="457.6" y2="216.96" stroke="#333" stroke-width="0.6"/><circle cx="477.5" cy="216.96" r="1.3" fill="#C8C8C8" stroke="none" stroke-width="0.8"/><text x="394.1" y="227.74" font-size="8.2" text-anchor="start" textLength="59.7" lengthAdjust="spacingAndGlyphs" fill="#111" class="c">Leaf development</text><line x1="456.0" y1="225.04000000000002" x2="457.6" y2="225.04000000000002" stroke="#333" stroke-width="0.6"/><circle cx="476.5" cy="225.04000000000002" r="1.3" fill="#C8C8C8" stroke="none" stroke-width="0.8"/><text x="391.4" y="235.82" font-size="8.2" text-anchor="start" textLength="62.4" lengthAdjust="spacingAndGlyphs" fill="#111" class="c">Hormone signaling</text><line x1="456.0" y1="233.12" x2="457.6" y2="233.12" stroke="#333" stroke-width="0.6"/><circle cx="501" cy="233.12" r="1.6" fill="#C8C8C8" stroke="none" stroke-width="0.8"/><text x="367.9" y="243.89999999999998" font-size="8.2" text-anchor="start" textLength="85.9" lengthAdjust="spacingAndGlyphs" fill="#111" class="c">Floral organ development</text><line x1="456.0" y1="241.2" x2="457.6" y2="241.2" stroke="#333" stroke-width="0.6"/><circle cx="477.5" cy="241.2" r="1.5" fill="#C8C8C8" stroke="none" stroke-width="0.8"/><text x="344.8" y="251.98" font-size="8.2" text-anchor="start" textLength="109.0" lengthAdjust="spacingAndGlyphs" fill="#111" class="c">Adaxial/abaxial axis specification</text><line x1="456.0" y1="249.28" x2="457.6" y2="249.28" stroke="#333" stroke-width="0.6"/><circle cx="475.3" cy="249.28" r="2.8" fill="#C8C8C8" stroke="none" stroke-width="0.8"/><text x="358.1" y="260.06" font-size="8.2" text-anchor="start" textLength="95.7" lengthAdjust="spacingAndGlyphs" fill="#111" class="c">Abaxial cell fate specification</text><line x1="456.0" y1="257.36" x2="457.6" y2="257.36" stroke="#333" stroke-width="0.6"/><circle cx="492.4" cy="257.36" r="4.0" fill="#C8C8C8" stroke="none" stroke-width="0.8"/><text x="461" y="273.5" font-size="8" text-anchor="middle" fill="#111" >0</text><line x1="461" y1="261.1" x2="461" y2="262.3" stroke="#333" stroke-width="0.6"/><text x="471.3" y="273.5" font-size="8" text-anchor="middle" fill="#111" >1</text><line x1="471.3" y1="261.1" x2="471.3" y2="262.3" stroke="#333" stroke-width="0.6"/><text x="481.8" y="273.5" font-size="8" text-anchor="middle" fill="#111" >2</text><line x1="481.8" y1="261.1" x2="481.8" y2="262.3" stroke="#333" stroke-width="0.6"/><text x="492.8" y="273.5" font-size="8" text-anchor="middle" fill="#111" >3</text><line x1="492.8" y1="261.1" x2="492.8" y2="262.3" stroke="#333" stroke-width="0.6"/><text x="503.3" y="273.5" font-size="8" text-anchor="middle" fill="#111" >4</text><line x1="503.3" y1="261.1" x2="503.3" y2="262.3" stroke="#333" stroke-width="0.6"/><text x="513.8" y="273.5" font-size="8" text-anchor="middle" fill="#111" >5</text><line x1="513.8" y1="261.1" x2="513.8" y2="262.3" stroke="#333" stroke-width="0.6"/><text x="484.8" y="287.7" font-size="9.5" text-anchor="middle" fill="#111">-log<tspan font-size="5.4" dy="1.7">10</tspan><tspan dy="-1.7">(FDR)</tspan></text><rect x="453.6" y="309.1" width="61.799999999999955" height="81.5" fill="none" stroke="#333" stroke-width="0.9"/><text x="357.1" y="318.5" font-size="8.2" text-anchor="start" textLength="92.5" lengthAdjust="spacingAndGlyphs" fill="#111" class="c">Xenobiotic export from cell</text><line x1="452.0" y1="315.8" x2="453.6" y2="315.8" stroke="#333" stroke-width="0.6"/><circle cx="495.8" cy="315.8" r="3.0" fill="#CD5D69" stroke="none" stroke-width="0.8"/><text x="394.3" y="329.8" font-size="8.2" text-anchor="start" textLength="55.3" lengthAdjust="spacingAndGlyphs" fill="#111" class="c">Respond to lipid</text><line x1="452.0" y1="327.1" x2="453.6" y2="327.1" stroke="#333" stroke-width="0.6"/><circle cx="488.3" cy="327.1" r="1.5" fill="#CD5D69" stroke="none" stroke-width="0.8"/><text x="359.8" y="341.1" font-size="8.2" text-anchor="start" textLength="89.8" lengthAdjust="spacingAndGlyphs" fill="#111" class="c">Regulation of transcription</text><line x1="452.0" y1="338.40000000000003" x2="453.6" y2="338.40000000000003" stroke="#333" stroke-width="0.6"/><circle cx="494" cy="338.40000000000003" r="0.8" fill="#CD5D69" stroke="none" stroke-width="0.8"/><text x="357.7" y="352.40000000000003" font-size="8.2" text-anchor="start" textLength="91.9" lengthAdjust="spacingAndGlyphs" fill="#111" class="c">Plant organ morphogenesis</text><line x1="452.0" y1="349.70000000000005" x2="453.6" y2="349.70000000000005" stroke="#333" stroke-width="0.6"/><circle cx="481" cy="349.70000000000005" r="1.5" fill="#CD5D69" stroke="none" stroke-width="0.8"/><text x="388.6" y="363.7" font-size="8.2" text-anchor="start" textLength="61.0" lengthAdjust="spacingAndGlyphs" fill="#111" class="c">Leaf development</text><line x1="452.0" y1="361.0" x2="453.6" y2="361.0" stroke="#333" stroke-width="0.6"/><circle cx="486.6" cy="361.0" r="1.7" fill="#CD5D69" stroke="none" stroke-width="0.8"/><text x="370.7" y="375.0" font-size="8.2" text-anchor="start" textLength="78.9" lengthAdjust="spacingAndGlyphs" fill="#111" class="c">Glucosinolate catabolic</text><line x1="452.0" y1="372.3" x2="453.6" y2="372.3" stroke="#333" stroke-width="0.6"/><circle cx="488.1" cy="372.3" r="3.5" fill="#CD5D69" stroke="none" stroke-width="0.8"/><text x="363.2" y="386.3" font-size="8.2" text-anchor="start" textLength="86.4" lengthAdjust="spacingAndGlyphs" fill="#111" class="c">Floral organ development</text><line x1="452.0" y1="383.6" x2="453.6" y2="383.6" stroke="#333" stroke-width="0.6"/><circle cx="482.6" cy="383.6" r="2.0" fill="#CD5D69" stroke="none" stroke-width="0.8"/><text x="457.4" y="403.4" font-size="8" text-anchor="middle" fill="#111" >0</text><line x1="456.6" y1="390.6" x2="456.6" y2="391.8" stroke="#333" stroke-width="0.6"/><text x="475.1" y="403.4" font-size="8" text-anchor="middle" fill="#111" >1</text><line x1="475.3" y1="390.6" x2="475.3" y2="391.8" stroke="#333" stroke-width="0.6"/><text x="495.2" y="403.4" font-size="8" text-anchor="middle" fill="#111" >2</text><line x1="494.1" y1="390.6" x2="494.1" y2="391.8" stroke="#333" stroke-width="0.6"/><text x="513.4" y="403.4" font-size="8" text-anchor="middle" fill="#111" >3</text><line x1="512.8" y1="390.6" x2="512.8" y2="391.8" stroke="#333" stroke-width="0.6"/><text x="485.3" y="415.5" font-size="9.5" text-anchor="middle" fill="#111">-log<tspan font-size="5.4" dy="1.7">10</tspan><tspan dy="-1.7">(FDR)</tspan></text><text x="19.7" y="268.2" font-size="9.5" text-anchor="start" fill="#111" >FC</text><text x="37.7" y="267.4" font-size="8" text-anchor="start" fill="#111" >5</text><text x="81" y="268.0" font-size="8" text-anchor="start" fill="#111" >10</text><line x1="46.4" y1="265.3" x2="75.1" y2="265.3" stroke="#111" stroke-width="0.7"/><path d="M74.1,263.3 L78.1,265.3 L74.1,267.3Z" fill="#111"/><circle cx="56.2" cy="261.6" r="2.3" fill="#666" stroke="none" stroke-width="0.8"/><circle cx="65" cy="261.6" r="3.0" fill="#666" stroke="none" stroke-width="0.8"/><text x="15.4" y="415.5" font-size="9.5" text-anchor="start" fill="#111" >FC</text><text x="36" y="414.7" font-size="8" text-anchor="start" fill="#111" >5</text><text x="77.4" y="415.3" font-size="8" text-anchor="start" fill="#111" >25</text><line x1="43.4" y1="413.2" x2="71.4" y2="413.2" stroke="#111" stroke-width="0.7"/><path d="M70.4,411.2 L74.4,413.2 L70.4,415.2Z" fill="#111"/><circle cx="36.7" cy="404" r="1.7" fill="#666" stroke="none" stroke-width="0.8"/><circle cx="46.4" cy="404" r="2.5" fill="#666" stroke="none" stroke-width="0.8"/><circle cx="56.6" cy="404" r="3.0" fill="#666" stroke="none" stroke-width="0.8"/><circle cx="66.3" cy="404" r="3.3" fill="#666" stroke="none" stroke-width="0.8"/><circle cx="76.2" cy="404" r="3.8" fill="#666" stroke="none" stroke-width="0.8"/><text x="369.8" y="284.2" font-size="9.5" text-anchor="start" fill="#111" >FC</text><text x="389" y="283.4" font-size="8" text-anchor="start" fill="#111" >5</text><text x="431.5" y="284.0" font-size="8" text-anchor="start" fill="#111" >20</text><line x1="397" y1="281.5" x2="426.6" y2="281.5" stroke="#111" stroke-width="0.7"/><path d="M425.6,279.5 L429.6,281.5 L425.6,283.5Z" fill="#111"/><circle cx="391.9" cy="270.5" r="2.0" fill="#666" stroke="none" stroke-width="0.8"/><circle cx="401.7" cy="270.5" r="2.8" fill="#666" stroke="none" stroke-width="0.8"/><circle cx="411.3" cy="270.5" r="3.2" fill="#666" stroke="none" stroke-width="0.8"/><circle cx="421.1" cy="270.5" r="3.6" fill="#666" stroke="none" stroke-width="0.8"/><circle cx="431.1" cy="270.5" r="4.2" fill="#666" stroke="none" stroke-width="0.8"/><text x="369.5" y="415.5" font-size="9.5" text-anchor="start" fill="#111" >FC</text><text x="389.2" y="414.7" font-size="8" text-anchor="start" fill="#111" >2</text><text x="432.3" y="415.3" font-size="8" text-anchor="start" fill="#111" >10</text><line x1="397.2" y1="412.6" x2="425.9" y2="412.6" stroke="#111" stroke-width="0.7"/><path d="M424.9,410.6 L428.9,412.6 L424.9,414.6Z" fill="#111"/><circle cx="393" cy="404.3" r="1.3" fill="#666" stroke="none" stroke-width="0.8"/><circle cx="401.6" cy="404.3" r="2.0" fill="#666" stroke="none" stroke-width="0.8"/><circle cx="410.1" cy="404.3" r="2.5" fill="#666" stroke="none" stroke-width="0.8"/><circle cx="418" cy="404.3" r="3.0" fill="#666" stroke="none" stroke-width="0.8"/><circle cx="426.2" cy="404.3" r="3.5" fill="#666" stroke="none" stroke-width="0.8"/><rect x="205.3" y="186.2" width="68.89999999999998" height="5.1" fill="#F9D46C" stroke="#C9A43A" stroke-width="0.7"/><rect x="205.3" y="197.85" width="55.69999999999999" height="5.1" fill="#F9D46C" stroke="#C9A43A" stroke-width="0.7"/><rect x="205.3" y="209.39999999999998" width="3.0999999999999943" height="5.1" fill="#F9D46C" stroke="#C9A43A" stroke-width="0.7"/><rect x="205.3" y="221.0" width="50.5" height="5.1" fill="#F9D46C" stroke="#C9A43A" stroke-width="0.7"/><rect x="205.3" y="232.5" width="77.30000000000001" height="5.1" fill="#F9D46C" stroke="#C9A43A" stroke-width="0.7"/><rect x="205.3" y="243.95" width="48.099999999999994" height="5.1" fill="#F9D46C" stroke="#C9A43A" stroke-width="0.7"/><line x1="204.85000000000002" y1="183.4" x2="330.95" y2="183.4" stroke="#222" stroke-width="0.9"/><line x1="330.5" y1="183.4" x2="330.5" y2="252.3" stroke="#777" stroke-width="0.9"/><line x1="204.85000000000002" y1="252.3" x2="330.95" y2="252.3" stroke="#777" stroke-width="0.9"/><line x1="205.3" y1="183.4" x2="205.3" y2="252.3" stroke="#222" stroke-width="0.9"/><text x="176.4" y="192.3" font-size="7.8" text-anchor="start" textLength="24.4" lengthAdjust="spacingAndGlyphs" font-style="italic" fill="#111" class="c">EFR055</text><text x="276" y="192.3" font-size="7.8" text-anchor="start" textLength="41.7" lengthAdjust="spacingAndGlyphs" fill="#111" class="c"><tspan font-style="italic">p</tspan> = 3.51E-07</text><text x="183.7" y="202.6" font-size="7.8" text-anchor="start" textLength="17.1" lengthAdjust="spacingAndGlyphs" font-style="italic" fill="#111" class="c">FUS3</text><text x="263.4" y="202.6" font-size="7.8" text-anchor="start" textLength="41.9" lengthAdjust="spacingAndGlyphs" fill="#111" class="c"><tspan font-style="italic">p</tspan> = 2.04E-59</text><text x="178.7" y="214.2" font-size="7.8" text-anchor="start" textLength="22.1" lengthAdjust="spacingAndGlyphs" font-style="italic" fill="#111" class="c">NFYB9</text><text x="212.7" y="214.2" font-size="7.8" text-anchor="start" textLength="41.2" lengthAdjust="spacingAndGlyphs" fill="#111" class="c"><tspan font-style="italic">p</tspan> = 1.62E-17</text><text x="173.3" y="226.2" font-size="7.8" text-anchor="start" textLength="27.5" lengthAdjust="spacingAndGlyphs" font-style="italic" fill="#111" class="c">MYB115</text><text x="258.1" y="226.2" font-size="7.8" text-anchor="start" textLength="16.6" lengthAdjust="spacingAndGlyphs" fill="#111" class="c"><tspan font-style="italic">p</tspan> = 0</text><text x="173" y="237.6" font-size="7.8" text-anchor="start" textLength="27.8" lengthAdjust="spacingAndGlyphs" font-style="italic" fill="#111" class="c">MYB118</text><text x="285" y="237.6" font-size="7.8" text-anchor="start" textLength="41.1" lengthAdjust="spacingAndGlyphs" fill="#111" class="c"><tspan font-style="italic">p</tspan> = 6.97E-74</text><text x="179.2" y="248.6" font-size="7.8" text-anchor="start" textLength="21.6" lengthAdjust="spacingAndGlyphs" font-style="italic" fill="#111" class="c">WAT1</text><text x="255.8" y="248.6" font-size="7.8" text-anchor="start" textLength="41.8" lengthAdjust="spacingAndGlyphs" fill="#111" class="c"><tspan font-style="italic">p</tspan> = 3.51E-07</text><text x="207.2" y="264.3" font-size="8" text-anchor="middle" fill="#111" >0</text><text x="270.2" y="264.3" font-size="8" text-anchor="middle" fill="#111" >0.5</text><line x1="267.9" y1="252.3" x2="267.9" y2="253.5" stroke="#333" stroke-width="0.6"/><text x="330.3" y="264.3" font-size="8" text-anchor="middle" fill="#111" >1.0</text><text x="270.8" y="278.6" font-size="9.5" text-anchor="middle" fill="#111">FC(<tspan font-style="italic">lec1</tspan>/WT)</text><text x="210.2" y="165.3" font-size="9.5" text-anchor="start" textLength="113.4" lengthAdjust="spacingAndGlyphs" fill="#111" >Positive regulation of small</text><text x="208.2" y="177" font-size="9.5" text-anchor="start" textLength="116.9" lengthAdjust="spacingAndGlyphs" fill="#111" >molecule metabolic process</text><rect x="205.2" y="325.09999999999997" width="43.30000000000001" height="6.2" fill="#BA97D6" stroke="#BA97D6" stroke-width="0.7"/><rect x="205.2" y="338.79999999999995" width="39.20000000000002" height="6.2" fill="#BA97D6" stroke="#BA97D6" stroke-width="0.7"/><rect x="205.2" y="352.5" width="72.80000000000001" height="6.2" fill="#BA97D6" stroke="#BA97D6" stroke-width="0.7"/><rect x="205.2" y="366.2" width="44.5" height="6.2" fill="#BA97D6" stroke="#BA97D6" stroke-width="0.7"/><rect x="205.2" y="379.9" width="47.20000000000002" height="6.2" fill="#BA97D6" stroke="#BA97D6" stroke-width="0.7"/><line x1="204.75" y1="321.5" x2="331.15" y2="321.5" stroke="#333" stroke-width="0.9"/><line x1="330.7" y1="321.5" x2="330.7" y2="390.3" stroke="#666" stroke-width="0.9"/><line x1="204.75" y1="390.3" x2="331.15" y2="390.3" stroke="#555" stroke-width="0.9"/><line x1="205.2" y1="321.5" x2="205.2" y2="390.3" stroke="#c8c8c8" stroke-width="0.9"/><text x="171.2" y="331.1" font-size="7.8" text-anchor="start" textLength="26.1" lengthAdjust="spacingAndGlyphs" font-style="italic" fill="#111" class="c">bHLH93</text><text x="252.4" y="330.6" font-size="7.8" text-anchor="start" textLength="35.0" lengthAdjust="spacingAndGlyphs" fill="#111" class="c"><tspan font-style="italic">p</tspan> = 0.0171</text><text x="170.0" y="345.1" font-size="7.8" text-anchor="start" textLength="27.3" lengthAdjust="spacingAndGlyphs" font-style="italic" fill="#111" class="c">GA2OX2</text><text x="248.5" y="344.1" font-size="7.8" text-anchor="start" textLength="41.4" lengthAdjust="spacingAndGlyphs" fill="#111" class="c"><tspan font-style="italic">p</tspan> = 1.24E-14</text><text x="169.9" y="359.1" font-size="7.8" text-anchor="start" textLength="27.4" lengthAdjust="spacingAndGlyphs" font-style="italic" fill="#111" class="c">GA2OX3</text><text x="280.3" y="357.7" font-size="7.8" text-anchor="start" textLength="41.4" lengthAdjust="spacingAndGlyphs" fill="#111" class="c"><tspan font-style="italic">p</tspan> = 6.82E-07</text><text x="169.9" y="372.8" font-size="7.8" text-anchor="start" textLength="27.4" lengthAdjust="spacingAndGlyphs" font-style="italic" fill="#111" class="c">GA2OX4</text><text x="252.4" y="371.0" font-size="7.8" text-anchor="start" textLength="39.3" lengthAdjust="spacingAndGlyphs" fill="#111" class="c"><tspan font-style="italic">p</tspan> = 0.00534</text><text x="169.9" y="387.1" font-size="7.8" text-anchor="start" textLength="27.4" lengthAdjust="spacingAndGlyphs" font-style="italic" fill="#111" class="c">GA2OX5</text><text x="256.8" y="385.1" font-size="7.8" text-anchor="start" textLength="41.2" lengthAdjust="spacingAndGlyphs" fill="#111" class="c"><tspan font-style="italic">p</tspan> = 4.26E-08</text><text x="205.9" y="404.3" font-size="8" text-anchor="middle" fill="#111" >0</text><text x="247" y="404.3" font-size="8" text-anchor="middle" fill="#111" >2</text><line x1="246.7" y1="390.3" x2="246.7" y2="391.5" stroke="#333" stroke-width="0.6"/><text x="288.7" y="404.3" font-size="8" text-anchor="middle" fill="#111" >4</text><line x1="288.1" y1="390.3" x2="288.1" y2="391.5" stroke="#333" stroke-width="0.6"/><text x="329.7" y="404.3" font-size="8" text-anchor="middle" fill="#111" >6</text><text x="269.5" y="415.5" font-size="9.5" text-anchor="middle" fill="#111">FC (<tspan font-style="italic">lec1</tspan>/WT)</text><text x="204.6" y="317.6" font-size="9.5" text-anchor="start" textLength="121.7" lengthAdjust="spacingAndGlyphs" fill="#111" >Gibberellin catabolic process</text><rect x="554.3" y="195.1" width="65.10000000000002" height="4.3" fill="#707070" stroke="#333" stroke-width="0.7"/><rect x="554.3" y="203.79999999999998" width="12.200000000000045" height="4.3" fill="#707070" stroke="#333" stroke-width="0.7"/><rect x="554.3" y="212.45" width="64.40000000000009" height="4.3" fill="#707070" stroke="#333" stroke-width="0.7"/><rect x="554.3" y="221.25" width="48.80000000000007" height="4.3" fill="#707070" stroke="#333" stroke-width="0.7"/><rect x="554.3" y="230.04999999999998" width="3.7000000000000455" height="4.3" fill="#707070" stroke="#333" stroke-width="0.7"/><rect x="554.3" y="238.2" width="2.5" height="4.3" fill="#707070" stroke="#333" stroke-width="0.7"/><rect x="554.3" y="247.15" width="30.700000000000045" height="4.3" fill="#707070" stroke="#333" stroke-width="0.7"/><rect x="554.3" y="255.4" width="4.7000000000000455" height="4.3" fill="#707070" stroke="#333" stroke-width="0.7"/><line x1="553.8499999999999" y1="193.5" x2="680.75" y2="193.5" stroke="#999" stroke-width="0.9"/><line x1="680.3" y1="193.5" x2="680.3" y2="262.4" stroke="#666" stroke-width="0.9"/><line x1="553.8499999999999" y1="262.4" x2="680.75" y2="262.4" stroke="#555" stroke-width="0.9"/><line x1="554.3" y1="193.5" x2="554.3" y2="262.4" stroke="#999" stroke-width="0.9"/><text x="530.7" y="199.9" font-size="7.3" text-anchor="start" textLength="16.5" lengthAdjust="spacingAndGlyphs" font-style="italic" fill="#111" class="c">VAL1</text><text x="621" y="199.9" font-size="7.3" text-anchor="start" textLength="41.8" lengthAdjust="spacingAndGlyphs" fill="#111" class="c"><tspan font-style="italic">p</tspan> = 4.21E-59</text><text x="520.9" y="208.3" font-size="7.3" text-anchor="start" textLength="26.3" lengthAdjust="spacingAndGlyphs" font-style="italic" fill="#111" class="c">GATA21</text><text x="570.7" y="208.3" font-size="7.3" text-anchor="start" textLength="34.5" lengthAdjust="spacingAndGlyphs" fill="#111" class="c"><tspan font-style="italic">p</tspan> = 0.0231</text><text x="519.6" y="217.2" font-size="7.3" text-anchor="start" textLength="27.6" lengthAdjust="spacingAndGlyphs" font-style="italic" fill="#111" class="c">MYB118</text><text x="621.5" y="217.2" font-size="7.3" text-anchor="start" textLength="41.3" lengthAdjust="spacingAndGlyphs" fill="#111" class="c"><tspan font-style="italic">p</tspan> = 1.68E-71</text><text x="521.4" y="226.0" font-size="7.3" text-anchor="start" textLength="25.8" lengthAdjust="spacingAndGlyphs" font-style="italic" fill="#111" class="c">PP2C54</text><text x="606" y="226.0" font-size="7.3" text-anchor="start" textLength="35.2" lengthAdjust="spacingAndGlyphs" fill="#111" class="c"><tspan font-style="italic">p</tspan> = 0.0005</text><text x="530.7" y="234.1" font-size="7.3" text-anchor="start" textLength="16.5" lengthAdjust="spacingAndGlyphs" font-style="italic" fill="#111" class="c">YAB1</text><text x="561.4" y="234.1" font-size="7.3" text-anchor="start" textLength="42.4" lengthAdjust="spacingAndGlyphs" fill="#111" class="c"><tspan font-style="italic">p</tspan> = 9.63E-09</text><text x="530" y="242.3" font-size="7.3" text-anchor="start" textLength="17.2" lengthAdjust="spacingAndGlyphs" font-style="italic" fill="#111" class="c">YAB2</text><text x="565.3" y="242.3" font-size="7.3" text-anchor="start" textLength="35.4" lengthAdjust="spacingAndGlyphs" fill="#111" class="c"><tspan font-style="italic">p</tspan> = 0.0003</text><text x="527.8" y="251.5" font-size="7.3" text-anchor="start" textLength="19.4" lengthAdjust="spacingAndGlyphs" font-style="italic" fill="#111" class="c">KAN2</text><text x="587.9" y="251.5" font-size="7.3" text-anchor="start" textLength="35.2" lengthAdjust="spacingAndGlyphs" fill="#111" class="c"><tspan font-style="italic">p</tspan> = 0.0003</text><text x="533.8" y="260.6" font-size="7.3" text-anchor="start" textLength="13.4" lengthAdjust="spacingAndGlyphs" font-style="italic" fill="#111" class="c">JAG</text><text x="562.9" y="260.6" font-size="7.3" text-anchor="start" textLength="35.4" lengthAdjust="spacingAndGlyphs" fill="#111" class="c"><tspan font-style="italic">p</tspan> = 0.0063</text><text x="556.7" y="272.7" font-size="8" text-anchor="middle" fill="#111" >0</text><text x="619.5" y="272.7" font-size="8" text-anchor="middle" fill="#111" >0.5</text><text x="680.3" y="272.7" font-size="8" text-anchor="middle" fill="#111" >1.0</text><text x="617.3" y="287.3" font-size="9.5" text-anchor="middle" fill="#111">FC(<tspan font-style="italic">lec1</tspan>/WT)</text><text x="617" y="164.6" font-size="9.5" text-anchor="middle" textLength="78.7" lengthAdjust="spacingAndGlyphs" fill="#111" >Regulation of seed</text><text x="616.5" y="176.4" font-size="9.5" text-anchor="middle" textLength="106.3" lengthAdjust="spacingAndGlyphs" fill="#111" >development and abaxial</text><text x="616.8" y="187.9" font-size="9.5" text-anchor="middle" textLength="87.9" lengthAdjust="spacingAndGlyphs" fill="#111" >cell fate specification</text><rect x="555.6" y="316.09999999999997" width="15.799999999999955" height="7.6" fill="#F7941D" stroke="#333" stroke-width="0.7"/><rect x="555.6" y="331.4" width="57.799999999999955" height="7.6" fill="#F7941D" stroke="#333" stroke-width="0.7"/><rect x="555.6" y="346.9" width="74.0" height="7.6" fill="#F7941D" stroke="#333" stroke-width="0.7"/><rect x="555.6" y="362.5" width="113.19999999999993" height="7.6" fill="#F7941D" stroke="#333" stroke-width="0.7"/><rect x="555.6" y="378.09999999999997" width="39.799999999999955" height="7.6" fill="#F7941D" stroke="#333" stroke-width="0.7"/><line x1="555.15" y1="312.2" x2="681.5500000000001" y2="312.2" stroke="#999" stroke-width="0.9"/><line x1="681.1" y1="312.2" x2="681.1" y2="390.3" stroke="#888" stroke-width="0.9"/><line x1="555.15" y1="390.3" x2="681.5500000000001" y2="390.3" stroke="#c8c8c8" stroke-width="0.9"/><line x1="555.6" y1="312.2" x2="555.6" y2="390.3" stroke="#444" stroke-width="0.9"/><text x="525.5" y="321.9" font-size="7.9" text-anchor="start" textLength="25.9" lengthAdjust="spacingAndGlyphs" font-style="italic" fill="#111" class="c">BGLU20</text><text x="575.5" y="322.2" font-size="7.9" text-anchor="start" textLength="35.4" lengthAdjust="spacingAndGlyphs" fill="#111" class="c"><tspan font-style="italic">p</tspan> = 0.0419</text><text x="524.9" y="337.5" font-size="7.9" text-anchor="start" textLength="26.5" lengthAdjust="spacingAndGlyphs" font-style="italic" fill="#111" class="c">BGLU21</text><text x="617.6" y="337.2" font-size="7.9" text-anchor="start" textLength="35.0" lengthAdjust="spacingAndGlyphs" fill="#111" class="c"><tspan font-style="italic">p</tspan> = 0.0153</text><text x="524.3" y="353.8" font-size="7.9" text-anchor="start" textLength="27.1" lengthAdjust="spacingAndGlyphs" font-style="italic" fill="#111" class="c">BGLU22</text><text x="631.6" y="352.4" font-size="7.9" text-anchor="start" textLength="34.8" lengthAdjust="spacingAndGlyphs" fill="#111" class="c"><tspan font-style="italic">p</tspan> = 0.0001</text><text x="524.3" y="369.5" font-size="7.9" text-anchor="start" textLength="27.1" lengthAdjust="spacingAndGlyphs" font-style="italic" fill="#111" class="c">BGLU23</text><text x="619.1" y="369.1" font-size="7.9" text-anchor="start" textLength="41.0" lengthAdjust="spacingAndGlyphs" fill="#111" class="c"><tspan font-style="italic">p</tspan> = 1.11E-12</text><text x="538.6" y="385.2" font-size="7.9" text-anchor="start" textLength="12.8" lengthAdjust="spacingAndGlyphs" font-style="italic" fill="#111" class="c">ESP</text><text x="597.9" y="385.4" font-size="7.9" text-anchor="start" textLength="41.7" lengthAdjust="spacingAndGlyphs" fill="#111" class="c"><tspan font-style="italic">p</tspan> = 9.71E-22</text><text x="560.6" y="402.4" font-size="8" text-anchor="middle" fill="#111" >0</text><text x="618.7" y="402.4" font-size="8" text-anchor="middle" fill="#111" >5</text><line x1="618.2" y1="390.3" x2="618.2" y2="391.5" stroke="#333" stroke-width="0.6"/><text x="680.2" y="402.4" font-size="8" text-anchor="middle" fill="#111" >10</text><text x="623.8" y="416" font-size="9.5" text-anchor="middle" fill="#111">log<tspan font-size="5.4" dy="1.7">2</tspan><tspan dy="-1.7">[FC (</tspan><tspan font-style="italic">lec1</tspan>/WT)]</text><text x="548.9" y="307.6" font-size="9.5" text-anchor="start" textLength="134.4" lengthAdjust="spacingAndGlyphs" fill="#111" >Glucosinolate catabolic process</text>
</svg></body></html>
